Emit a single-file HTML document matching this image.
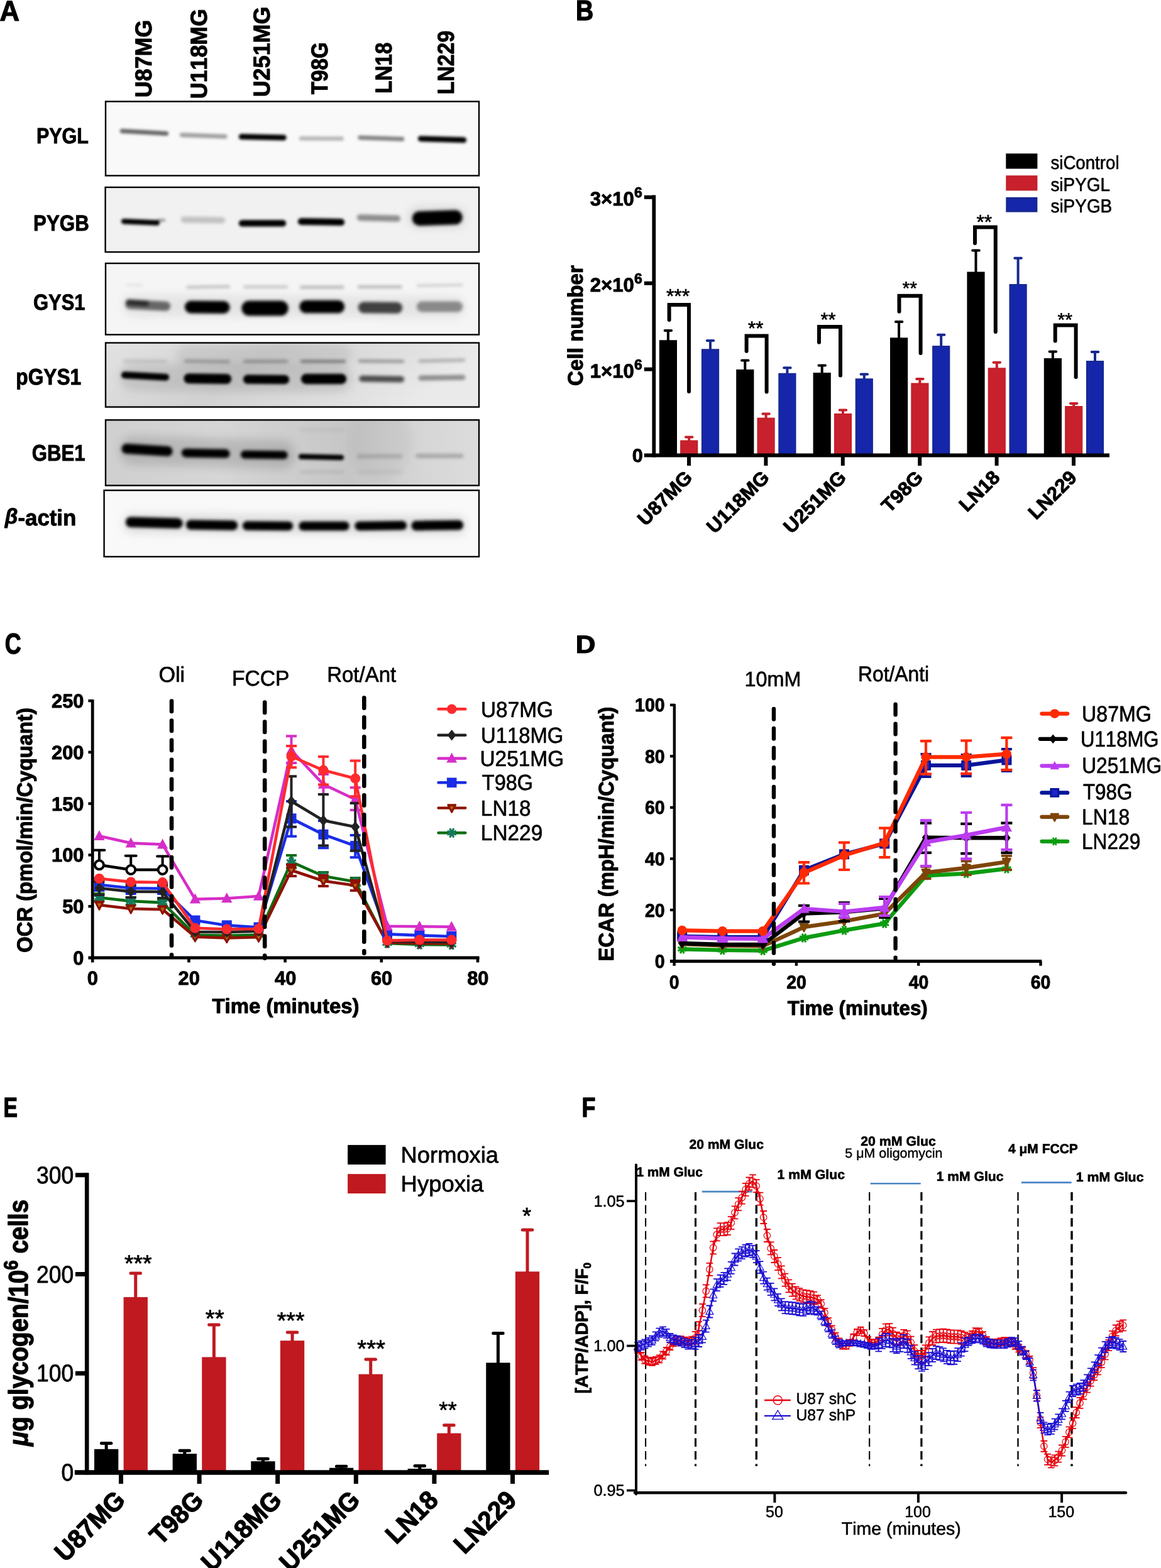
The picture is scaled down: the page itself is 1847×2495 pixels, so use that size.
<!DOCTYPE html>
<html lang="en">
<head>
<meta charset="utf-8">
<title>Figure</title>
<style>
html,body{margin:0;padding:0;background:#fff}
body{width:1847px;height:2495px;overflow:hidden}
svg{display:block;font-family:"Liberation Sans",sans-serif;font-kerning:none;text-rendering:geometricPrecision}
</style>
</head>
<body>
<svg width="1847" height="2495" viewBox="0 0 1847 2495">
<rect width="1847" height="2495" fill="#fff"/>
<g id="panel-A">
<defs><filter id="b1" x="-20%" y="-100%" width="140%" height="300%"><feGaussianBlur stdDeviation="1.9"/></filter><filter id="b2" x="-20%" y="-100%" width="140%" height="300%"><feGaussianBlur stdDeviation="2.6"/></filter><filter id="b3" x="-20%" y="-100%" width="140%" height="300%"><feGaussianBlur stdDeviation="7"/></filter><filter id="b4" x="-30%" y="-30%" width="160%" height="160%"><feGaussianBlur stdDeviation="18"/></filter><linearGradient id="bg4" x1="0" y1="0" x2="1" y2="0.25"><stop offset="0" stop-color="#e2e2e2"/><stop offset="0.45" stop-color="#d2d2d2"/><stop offset="0.8" stop-color="#e0e0e0"/><stop offset="1" stop-color="#eaeaea"/></linearGradient><linearGradient id="bg5" x1="0" y1="0" x2="1" y2="0"><stop offset="0" stop-color="#cfcfcf"/><stop offset="0.3" stop-color="#d6d6d6"/><stop offset="0.65" stop-color="#c6c6c6"/><stop offset="0.85" stop-color="#d6d6d6"/><stop offset="1" stop-color="#dcdcdc"/></linearGradient>
<clipPath id="cb0"><rect x="168" y="161.5" width="594" height="118"/></clipPath>
<clipPath id="cb1"><rect x="167.6" y="298" width="594.4" height="103"/></clipPath>
<clipPath id="cb2"><rect x="168" y="419" width="594" height="113.5"/></clipPath>
<clipPath id="cb3"><rect x="168" y="545.5" width="594" height="102.1"/></clipPath>
<clipPath id="cb4"><rect x="168" y="668.3" width="594" height="104.2"/></clipPath>
<clipPath id="cb5"><rect x="165.6" y="780.2" width="596.4" height="105.6"/></clipPath>
</defs>
<rect x="168" y="161.5" width="594" height="118" fill="#f9f9f9"/>
<g clip-path="url(#cb0)">
<g filter="url(#b1)">
<rect x="190.8" y="207" width="77.4" height="7" rx="3.5" fill="#000" opacity="0.6" transform="rotate(3.11 229.5 210.5)"/>
<rect x="285.8" y="212.5" width="75.9" height="7" rx="3.5" fill="#000" opacity="0.36" transform="rotate(2.26 323.75 216)"/>
<rect x="379.8" y="213.75" width="75.9" height="9" rx="4.5" fill="#000" transform="rotate(1.13 417.75 218.25)"/>
<rect x="475.8" y="216.95" width="71.4" height="7" rx="3.5" fill="#000" opacity="0.26" transform="rotate(0.24 511.5 220.45)"/>
<rect x="569.3" y="216.65" width="73.9" height="7" rx="3.5" fill="#000" opacity="0.48" transform="rotate(2.09 606.25 220.15)"/>
<rect x="664.8" y="217.25" width="77.4" height="9" rx="4.5" fill="#000" transform="rotate(1.85 703.5 221.75)"/>
</g>
</g>
<rect x="168" y="161.5" width="594" height="118" fill="none" stroke="#000" stroke-width="2.4"/>
<rect x="167.6" y="298" width="594.4" height="103" fill="#f1f1f1"/>
<g clip-path="url(#cb1)">
<g filter="url(#b3)">
<rect x="650" y="329" width="90" height="34" rx="17" fill="#000" opacity="0.1"/>
</g>
<g filter="url(#b2)">
<rect x="287.8" y="345" width="70.4" height="10" rx="5" fill="#000" opacity="0.2" transform="rotate(0.81 323 350)"/>
<rect x="567.8" y="342" width="69.4" height="10" rx="5" fill="#000" opacity="0.42" transform="rotate(1.65 602.5 347)"/>
<rect x="655.8" y="335.25" width="79.9" height="23" rx="11.5" fill="#000" transform="rotate(-1.79 695.75 346.75)"/>
</g>
<g filter="url(#b1)">
<rect x="192.8" y="349.15" width="61.4" height="8.5" rx="4.25" fill="#000" transform="rotate(2.61 223.5 353.4)"/>
<rect x="248.8" y="348" width="14.4" height="5" rx="2.5" fill="#000" opacity="0.35" transform="rotate(-3.97 256 350.5)"/>
<rect x="379.8" y="349.95" width="75.4" height="10.5" rx="5.25" fill="#000"/>
<rect x="473.8" y="347.5" width="74.4" height="11" rx="5.5" fill="#000" transform="rotate(1.08 511 353)"/>
</g>
</g>
<rect x="167.6" y="298" width="594.4" height="103" fill="none" stroke="#000" stroke-width="2.4"/>
<rect x="168" y="419" width="594" height="113.5" fill="#f5f5f5"/>
<g clip-path="url(#cb2)">
<g filter="url(#b3)">
<rect x="195" y="470.5" width="545" height="34" rx="17" fill="#000" opacity="0.07" transform="rotate(0.32 467.5 487.5)"/>
</g>
<g filter="url(#b2)">
<rect x="200.8" y="451.5" width="27.4" height="4" rx="2" fill="#000" opacity="0.07"/>
<rect x="296.3" y="454.25" width="69.9" height="4.5" rx="2.25" fill="#000" opacity="0.22" transform="rotate(-0.82 331.25 456.5)"/>
<rect x="386.8" y="454.25" width="71.4" height="4.5" rx="2.25" fill="#000" opacity="0.2"/>
<rect x="476.8" y="454.75" width="70.9" height="4.5" rx="2.25" fill="#000" opacity="0.27"/>
<rect x="568.8" y="454.25" width="70.9" height="4.5" rx="2.25" fill="#000" opacity="0.27"/>
<rect x="662.8" y="452" width="73.9" height="4" rx="2" fill="#000" opacity="0.16" transform="rotate(-0.78 699.75 454)"/>
<rect x="199.3" y="478.25" width="71.9" height="15" rx="7.5" fill="#000" opacity="0.55" transform="rotate(2.79 235.25 485.75)"/>
<rect x="199.8" y="477.25" width="37.4" height="9" rx="4.5" fill="#000" opacity="0.6" transform="rotate(3.82 218.5 481.75)"/>
<rect x="293.8" y="478.75" width="71.9" height="20" rx="10" fill="#000" transform="rotate(0.40 329.75 488.75)"/>
<rect x="384.3" y="478.6" width="74.4" height="24" rx="12" fill="#000"/>
<rect x="476.3" y="477.75" width="71.9" height="20.5" rx="10.25" fill="#000"/>
<rect x="569.8" y="480.5" width="70.4" height="18" rx="9" fill="#000" opacity="0.72" transform="rotate(0.81 605 489.5)"/>
<rect x="662.8" y="479.5" width="73.4" height="17" rx="8.5" fill="#000" opacity="0.4"/>
</g>
</g>
<rect x="168" y="419" width="594" height="113.5" fill="none" stroke="#000" stroke-width="2.4"/>
<rect x="168" y="545.5" width="594" height="102.1" fill="url(#bg4)"/>
<g clip-path="url(#cb3)">
<g filter="url(#b3)">
<rect x="190" y="579.5" width="370" height="44" rx="22" fill="#000" opacity="0.1" transform="rotate(0.46 375 601.5)"/>
<rect x="280" y="548" width="280" height="36" rx="18" fill="#000" opacity="0.07"/>
</g>
<g filter="url(#b2)">
<rect x="195.8" y="572.5" width="70.4" height="4.5" rx="2.25" fill="#000" opacity="0.12" transform="rotate(0.41 231 574.75)"/>
<rect x="292.8" y="572.75" width="73.4" height="4.5" rx="2.25" fill="#000" opacity="0.27" transform="rotate(0.78 329.5 575)"/>
<rect x="386.8" y="572.75" width="71.4" height="4.5" rx="2.25" fill="#000" opacity="0.3"/>
<rect x="477.8" y="572.75" width="72.4" height="4.5" rx="2.25" fill="#000" opacity="0.42"/>
<rect x="569.8" y="572.5" width="73.4" height="4.5" rx="2.25" fill="#000" opacity="0.36" transform="rotate(0.39 606.5 574.75)"/>
<rect x="665.8" y="571.5" width="74.4" height="4.5" rx="2.25" fill="#000" opacity="0.27" transform="rotate(-1.16 703 573.75)"/>
<rect x="571.3" y="598" width="71.9" height="10" rx="5" fill="#000" opacity="0.66" transform="rotate(0.80 607.25 603)"/>
<rect x="665.8" y="597" width="74.4" height="8" rx="4" fill="#000" opacity="0.4" transform="rotate(-0.77 703 601)"/>
</g>
<g filter="url(#b1)">
<rect x="192.8" y="593" width="76.4" height="11" rx="5.5" fill="#000" transform="rotate(3.00 231 598.5)"/>
<rect x="292.3" y="594.6" width="75.9" height="16" rx="8" fill="#000" transform="rotate(0.60 330.25 602.6)"/>
<rect x="386.8" y="596.5" width="73.4" height="14.5" rx="7.25" fill="#000" transform="rotate(0.39 423.5 603.75)"/>
<rect x="478.8" y="594.75" width="72.4" height="16.5" rx="8.25" fill="#000"/>
</g>
</g>
<rect x="168" y="545.5" width="594" height="102.1" fill="none" stroke="#000" stroke-width="2.4"/>
<rect x="168" y="668.3" width="594" height="104.2" fill="url(#bg5)"/>
<g clip-path="url(#cb4)">
<g filter="url(#b3)">
<rect x="190" y="697" width="280" height="46" rx="23" fill="#000" opacity="0.13" transform="rotate(1.64 330 720)"/>
<rect x="555" y="645" width="100" height="120" rx="60" fill="#000" opacity="0.03"/>
</g>
<g filter="url(#b2)">
<rect x="193.3" y="708.1" width="81.4" height="16" rx="8" fill="#000" transform="rotate(3.51 234 716.1)"/>
<rect x="288.8" y="714.25" width="76.9" height="14" rx="7" fill="#000" transform="rotate(1.12 327.25 721.25)"/>
<rect x="382.8" y="717.2" width="74.9" height="13" rx="6.5" fill="#000" transform="rotate(0.76 420.25 723.7)"/>
<rect x="567.8" y="722.5" width="72.4" height="7" rx="3.5" fill="#000" opacity="0.15"/>
<rect x="661.3" y="722.1" width="75.9" height="7" rx="3.5" fill="#000" opacity="0.22"/>
<rect x="476.8" y="748.5" width="70.4" height="5" rx="2.5" fill="#000" opacity="0.07"/>
<rect x="567.8" y="748.5" width="72.4" height="5" rx="2.5" fill="#000" opacity="0.05"/>
<rect x="476.8" y="681.5" width="70.4" height="5" rx="2.5" fill="#000" opacity="0.05"/>
</g>
<g filter="url(#b1)">
<rect x="474.8" y="723" width="72.4" height="8.5" rx="4.25" fill="#000" transform="rotate(1.19 511 727.25)"/>
</g>
</g>
<rect x="168" y="668.3" width="594" height="104.2" fill="none" stroke="#000" stroke-width="2.4"/>
<rect x="165.6" y="780.2" width="596.4" height="105.6" fill="#f9f9f9"/>
<g clip-path="url(#cb5)">
<g filter="url(#b3)">
<rect x="196" y="818.5" width="546" height="32" rx="16" fill="#000" opacity="0.1" transform="rotate(0.31 469 834.5)"/>
</g>
<g filter="url(#b2)">
<rect x="199.8" y="823.5" width="90.9" height="16.5" rx="8.25" fill="#000" transform="rotate(1.58 245.25 831.75)"/>
<rect x="295.8" y="827.75" width="82.4" height="15.5" rx="7.75" fill="#000" transform="rotate(0.70 337 835.5)"/>
<rect x="385.8" y="829.5" width="80.4" height="14.5" rx="7.25" fill="#000" transform="rotate(0.36 426 836.75)"/>
<rect x="475.3" y="829.75" width="80.4" height="14.5" rx="7.25" fill="#000"/>
<rect x="564.3" y="829.25" width="82.9" height="14.5" rx="7.25" fill="#000" transform="rotate(-0.69 605.75 836.5)"/>
<rect x="654.3" y="828.25" width="82.9" height="15.5" rx="7.75" fill="#000" transform="rotate(-0.69 695.75 836)"/>
</g>
</g>
<rect x="165.6" y="780.2" width="596.4" height="105.6" fill="none" stroke="#000" stroke-width="2.4"/>
<text transform="translate(-0.39 32.7) scale(0.9539 1)" font-size="45.79" font-weight="bold" stroke="#000" stroke-width="1.19" stroke-linejoin="round">A</text>
<text transform="translate(57.96 228) scale(0.8736 1)" font-size="34.88" font-weight="bold" stroke="#000" stroke-width="0.91" stroke-linejoin="round">PYGL</text>
<text transform="translate(53.11 367.3) scale(0.8900 1)" font-size="35.18" font-weight="bold" stroke="#000" stroke-width="0.91" stroke-linejoin="round">PYGB</text>
<text transform="translate(52.93 493.2) scale(0.8722 1)" font-size="35.47" font-weight="bold" stroke="#000" stroke-width="0.92" stroke-linejoin="round">GYS1</text>
<text transform="translate(25.31 612.3) scale(0.8788 1)" font-size="36.05" font-weight="bold" stroke="#000" stroke-width="0.94" stroke-linejoin="round">pGYS1</text>
<text transform="translate(50.72 733) scale(0.8633 1)" font-size="36.05" font-weight="bold" stroke="#000" stroke-width="0.94" stroke-linejoin="round">GBE1</text>
<text transform="translate(7.84 836) scale(0.9746 1)" font-size="35.76" font-weight="bold" stroke="#000" stroke-width="0.93" stroke-linejoin="round"><tspan font-style="italic" font-size="34" dy="-3.5">β</tspan><tspan dy="3.5">-actin</tspan></text>
<text transform="translate(241 155.15) rotate(-90) scale(0.9707 1)" font-size="36.92" font-weight="bold" stroke="#000" stroke-width="0.96" stroke-linejoin="round">U87MG</text>
<text transform="translate(329 157.15) rotate(-90) scale(0.9691 1)" font-size="36.92" font-weight="bold" stroke="#000" stroke-width="0.96" stroke-linejoin="round">U118MG</text>
<text transform="translate(429.3 154.16) rotate(-90) scale(0.9719 1)" font-size="36.92" font-weight="bold" stroke="#000" stroke-width="0.96" stroke-linejoin="round">U251MG</text>
<text transform="translate(520.7 150.37) rotate(-90) scale(0.9037 1)" font-size="36.92" font-weight="bold" stroke="#000" stroke-width="0.96" stroke-linejoin="round">T98G</text>
<text transform="translate(622.6 148.72) rotate(-90) scale(0.8999 1)" font-size="36.92" font-weight="bold" stroke="#000" stroke-width="0.96" stroke-linejoin="round">LN18</text>
<text transform="translate(722.3 150.26) rotate(-90) scale(0.9161 1)" font-size="36.92" font-weight="bold" stroke="#000" stroke-width="0.96" stroke-linejoin="round">LN229</text>
</g>
<g id="panel-B">
<text transform="translate(916.09 32.2) scale(0.8661 1)" font-size="45.06" font-weight="bold" stroke="#000" stroke-width="1.35" stroke-linejoin="round">B</text>
<path d="M1062.9 526V543.2M1057.65 526H1068.15" fill="none" stroke="#000" stroke-width="4" stroke-linecap="round"/>
<rect x="1048.8" y="541.2" width="28.2" height="183.3" fill="#000"/>
<path d="M1096.2 695.6V702.5M1090.95 695.6H1101.45" fill="none" stroke="#c4202a" stroke-width="4" stroke-linecap="round"/>
<rect x="1083.1" y="701.5" width="26.2" height="23" fill="#c8202c" stroke="#c4202a" stroke-width="2"/>
<path d="M1130 541.9V557.2M1124.75 541.9H1135.25" fill="none" stroke="#17288f" stroke-width="4" stroke-linecap="round"/>
<rect x="1116.9" y="556.2" width="26.2" height="168.3" fill="#1526ab" stroke="#17288f" stroke-width="2"/>
<path d="M1185.3 573.4V589.9M1180.05 573.4H1190.55" fill="none" stroke="#000" stroke-width="4" stroke-linecap="round"/>
<rect x="1171.2" y="587.9" width="28.2" height="136.6" fill="#000"/>
<path d="M1218.6 658.6V666.6M1213.35 658.6H1223.85" fill="none" stroke="#c4202a" stroke-width="4" stroke-linecap="round"/>
<rect x="1205.5" y="665.6" width="26.2" height="58.9" fill="#c8202c" stroke="#c4202a" stroke-width="2"/>
<path d="M1252.4 585.2V595.7M1247.15 585.2H1257.65" fill="none" stroke="#17288f" stroke-width="4" stroke-linecap="round"/>
<rect x="1239.3" y="594.7" width="26.2" height="129.8" fill="#1526ab" stroke="#17288f" stroke-width="2"/>
<path d="M1307.7 581.6V595M1302.45 581.6H1312.95" fill="none" stroke="#000" stroke-width="4" stroke-linecap="round"/>
<rect x="1293.6" y="593" width="28.2" height="131.5" fill="#000"/>
<path d="M1341 652.5V659.9M1335.75 652.5H1346.25" fill="none" stroke="#c4202a" stroke-width="4" stroke-linecap="round"/>
<rect x="1327.9" y="658.9" width="26.2" height="65.6" fill="#c8202c" stroke="#c4202a" stroke-width="2"/>
<path d="M1374.8 595.6V604.2M1369.55 595.6H1380.05" fill="none" stroke="#17288f" stroke-width="4" stroke-linecap="round"/>
<rect x="1361.7" y="603.2" width="26.2" height="121.3" fill="#1526ab" stroke="#17288f" stroke-width="2"/>
<path d="M1430.1 511.9V539.3M1424.85 511.9H1435.35" fill="none" stroke="#000" stroke-width="4" stroke-linecap="round"/>
<rect x="1416" y="537.3" width="28.2" height="187.2" fill="#000"/>
<path d="M1463.4 602.9V611.4M1458.15 602.9H1468.65" fill="none" stroke="#c4202a" stroke-width="4" stroke-linecap="round"/>
<rect x="1450.3" y="610.4" width="26.2" height="114.1" fill="#c8202c" stroke="#c4202a" stroke-width="2"/>
<path d="M1497.2 532.7V552.1M1491.95 532.7H1502.45" fill="none" stroke="#17288f" stroke-width="4" stroke-linecap="round"/>
<rect x="1484.1" y="551.1" width="26.2" height="173.4" fill="#1526ab" stroke="#17288f" stroke-width="2"/>
<path d="M1552.5 398.5V434.5M1547.25 398.5H1557.75" fill="none" stroke="#000" stroke-width="4" stroke-linecap="round"/>
<rect x="1538.4" y="432.5" width="28.2" height="292" fill="#000"/>
<path d="M1585.8 576.7V587.2M1580.55 576.7H1591.05" fill="none" stroke="#c4202a" stroke-width="4" stroke-linecap="round"/>
<rect x="1572.7" y="586.2" width="26.2" height="138.3" fill="#c8202c" stroke="#c4202a" stroke-width="2"/>
<path d="M1619.6 410.8V454M1614.35 410.8H1624.85" fill="none" stroke="#17288f" stroke-width="4" stroke-linecap="round"/>
<rect x="1606.5" y="453" width="26.2" height="271.5" fill="#1526ab" stroke="#17288f" stroke-width="2"/>
<path d="M1674.9 559.4V572M1669.65 559.4H1680.15" fill="none" stroke="#000" stroke-width="4" stroke-linecap="round"/>
<rect x="1660.8" y="570" width="28.2" height="154.5" fill="#000"/>
<path d="M1708.2 642V648M1702.95 642H1713.45" fill="none" stroke="#c4202a" stroke-width="4" stroke-linecap="round"/>
<rect x="1695.1" y="647" width="26.2" height="77.5" fill="#c8202c" stroke="#c4202a" stroke-width="2"/>
<path d="M1742 560V576M1736.75 560H1747.25" fill="none" stroke="#17288f" stroke-width="4" stroke-linecap="round"/>
<rect x="1728.9" y="575" width="26.2" height="149.5" fill="#1526ab" stroke="#17288f" stroke-width="2"/>
<line x1="1040.3" y1="310.6" x2="1040.3" y2="727.5" stroke="#000" stroke-width="5.8"/>
<line x1="1024.8" y1="724.5" x2="1765" y2="724.5" stroke="#000" stroke-width="6"/>
<line x1="1024.8" y1="587.6" x2="1041" y2="587.6" stroke="#000" stroke-width="6"/>
<line x1="1024.8" y1="450.7" x2="1041" y2="450.7" stroke="#000" stroke-width="6"/>
<line x1="1024.8" y1="313.8" x2="1041" y2="313.8" stroke="#000" stroke-width="6"/>
<line x1="1096" y1="726" x2="1096" y2="741" stroke="#000" stroke-width="6"/>
<line x1="1218.4" y1="726" x2="1218.4" y2="741" stroke="#000" stroke-width="6"/>
<line x1="1340.8" y1="726" x2="1340.8" y2="741" stroke="#000" stroke-width="6"/>
<line x1="1463.2" y1="726" x2="1463.2" y2="741" stroke="#000" stroke-width="6"/>
<line x1="1585.6" y1="726" x2="1585.6" y2="741" stroke="#000" stroke-width="6"/>
<line x1="1708" y1="726" x2="1708" y2="741" stroke="#000" stroke-width="6"/>
<text transform="translate(938.81 600.8) scale(1.0000 1)" font-size="31.11" font-weight="bold" stroke="#000" stroke-width="0.93" stroke-linejoin="round">1×10<tspan font-size="23" dy="-13">6</tspan></text>
<text transform="translate(938.81 463.9) scale(1.0000 1)" font-size="31.11" font-weight="bold" stroke="#000" stroke-width="0.93" stroke-linejoin="round">2×10<tspan font-size="23" dy="-13">6</tspan></text>
<text transform="translate(938.81 327) scale(1.0000 1)" font-size="31.11" font-weight="bold" stroke="#000" stroke-width="0.93" stroke-linejoin="round">3×10<tspan font-size="23" dy="-13">6</tspan></text>
<text transform="translate(1005.79 734.7) scale(1.0353 1)" font-size="29.65" font-weight="bold" stroke="#000" stroke-width="0.89" stroke-linejoin="round">0</text>
<text transform="translate(927 613.96) rotate(-90) scale(0.9851 1)" font-size="33.72" font-weight="bold" stroke="#000" stroke-width="1.01" stroke-linejoin="round">Cell number</text>
<path d="M1064.6 509V485H1096V623" fill="none" stroke="#000" stroke-width="6" stroke-linecap="round" stroke-linejoin="miter"/>
<path d="M1187.6 558.7V534.5H1219.6V623.4" fill="none" stroke="#000" stroke-width="6" stroke-linecap="round" stroke-linejoin="miter"/>
<path d="M1303 544.7V520H1337V597.5" fill="none" stroke="#000" stroke-width="6" stroke-linecap="round" stroke-linejoin="miter"/>
<path d="M1430.5 495.8V470.8H1464.6V562" fill="none" stroke="#000" stroke-width="6" stroke-linecap="round" stroke-linejoin="miter"/>
<path d="M1551 387V361.6H1583.8V528" fill="none" stroke="#000" stroke-width="6" stroke-linecap="round" stroke-linejoin="miter"/>
<path d="M1678.7 542.4V517.4H1711.6V600" fill="none" stroke="#000" stroke-width="6" stroke-linecap="round" stroke-linejoin="miter"/>
<text x="1059.88" y="482.38" font-size="31.96" stroke="#000" stroke-width="0.64" stroke-linejoin="round">***</text>
<text x="1190.09" y="533.06" font-size="31.34" stroke="#000" stroke-width="0.63" stroke-linejoin="round">**</text>
<text x="1305.5" y="518.79" font-size="30.81" stroke="#000" stroke-width="0.62" stroke-linejoin="round">**</text>
<text x="1435.51" y="469.24" font-size="30.14" stroke="#000" stroke-width="0.6" stroke-linejoin="round">**</text>
<text x="1553.49" y="363.97" font-size="31.74" stroke="#000" stroke-width="0.63" stroke-linejoin="round">**</text>
<text x="1682.52" y="518.88" font-size="30" stroke="#000" stroke-width="0.6" stroke-linejoin="round">**</text>
<text transform="translate(1103.4 761.6) rotate(-45) scale(1.0200 1)" font-size="30.8" text-anchor="end" font-weight="bold" stroke="#000" stroke-width="0.92" stroke-linejoin="round">U87MG</text>
<text transform="translate(1225.7 761.6) rotate(-45) scale(1.0200 1)" font-size="30.8" text-anchor="end" font-weight="bold" stroke="#000" stroke-width="0.92" stroke-linejoin="round">U118MG</text>
<text transform="translate(1348 761.6) rotate(-45) scale(1.0200 1)" font-size="30.8" text-anchor="end" font-weight="bold" stroke="#000" stroke-width="0.92" stroke-linejoin="round">U251MG</text>
<text transform="translate(1470.3 761.6) rotate(-45) scale(1.0200 1)" font-size="30.8" text-anchor="end" font-weight="bold" stroke="#000" stroke-width="0.92" stroke-linejoin="round">T98G</text>
<text transform="translate(1592.6 761.6) rotate(-45) scale(1.0200 1)" font-size="30.8" text-anchor="end" font-weight="bold" stroke="#000" stroke-width="0.92" stroke-linejoin="round">LN18</text>
<text transform="translate(1714.9 761.6) rotate(-45) scale(1.0200 1)" font-size="30.8" text-anchor="end" font-weight="bold" stroke="#000" stroke-width="0.92" stroke-linejoin="round">LN229</text>
<rect x="1601.8" y="245.8" width="47.1" height="21.2" fill="#000" stroke="#000" stroke-width="3"/>
<rect x="1601.8" y="280.7" width="47.1" height="21.2" fill="#c8202c" stroke="#c4202a" stroke-width="3"/>
<rect x="1601.8" y="315.3" width="47.1" height="20.8" fill="#1526ab" stroke="#17288f" stroke-width="3"/>
<text transform="translate(1671.43 269) scale(0.9236 1)" font-size="29.94" stroke="#000" stroke-width="0.6" stroke-linejoin="round">siControl</text>
<text transform="translate(1671.42 303.6) scale(0.9310 1)" font-size="29.94" stroke="#000" stroke-width="0.6" stroke-linejoin="round">siPYGL</text>
<text transform="translate(1671.42 337.5) scale(0.9335 1)" font-size="29.94" stroke="#000" stroke-width="0.6" stroke-linejoin="round">siPYGB</text>
</g>
<g id="panel-C">
<text transform="translate(7.73 1039.6) scale(0.7825 1)" font-size="45.93" font-weight="bold" stroke="#000" stroke-width="1.38" stroke-linejoin="round">C</text>
<path d="M157.9 1422V1434M149.4 1422H166.4M149.4 1434H166.4" fill="none" stroke="#0a6e12" stroke-width="4" stroke-linecap="butt"/>
<path d="M208.2 1428V1440M199.7 1428H216.7M199.7 1440H216.7" fill="none" stroke="#0a6e12" stroke-width="4" stroke-linecap="butt"/>
<path d="M258.6 1431V1442M250.1 1431H267.1M250.1 1442H267.1" fill="none" stroke="#0a6e12" stroke-width="4" stroke-linecap="butt"/>
<path d="M463.5 1361V1381M455 1361H472M455 1381H472" fill="none" stroke="#0a6e12" stroke-width="4" stroke-linecap="butt"/>
<path d="M514.4 1388V1400M505.9 1388H522.9M505.9 1400H522.9" fill="none" stroke="#0a6e12" stroke-width="4" stroke-linecap="butt"/>
<path d="M565.2 1397V1409M556.7 1397H573.7M556.7 1409H573.7" fill="none" stroke="#0a6e12" stroke-width="4" stroke-linecap="butt"/>
<polyline points="157.9,1428.3 208.2,1433.9 258.6,1436.3 310.4,1487.7 360.8,1488.9 411.5,1487.6 463.5,1371.4 514.4,1394 565.2,1403 616,1501 667.4,1503 718.3,1503.4" fill="none" stroke="#0a6e12" stroke-width="4.6" stroke-linejoin="round" stroke-linecap="round"/>
<circle cx="157.9" cy="1428.3" r="4.96" fill="#157a5c"/><path d="M150.51 1425.24L165.29 1431.36M154.84 1420.91L160.96 1435.69M160.96 1420.91L154.84 1435.69M165.29 1425.24L150.51 1431.36" stroke="#157a5c" stroke-width="3.36" fill="none"/>
<circle cx="208.2" cy="1433.9" r="4.96" fill="#157a5c"/><path d="M200.81 1430.84L215.59 1436.96M205.14 1426.51L211.26 1441.29M211.26 1426.51L205.14 1441.29M215.59 1430.84L200.81 1436.96" stroke="#157a5c" stroke-width="3.36" fill="none"/>
<circle cx="258.6" cy="1436.3" r="4.96" fill="#157a5c"/><path d="M251.21 1433.24L265.99 1439.36M255.54 1428.91L261.66 1443.69M261.66 1428.91L255.54 1443.69M265.99 1433.24L251.21 1439.36" stroke="#157a5c" stroke-width="3.36" fill="none"/>
<circle cx="310.4" cy="1487.7" r="4.96" fill="#157a5c"/><path d="M303.01 1484.64L317.79 1490.76M307.34 1480.31L313.46 1495.09M313.46 1480.31L307.34 1495.09M317.79 1484.64L303.01 1490.76" stroke="#157a5c" stroke-width="3.36" fill="none"/>
<circle cx="360.8" cy="1488.9" r="4.96" fill="#157a5c"/><path d="M353.41 1485.84L368.19 1491.96M357.74 1481.51L363.86 1496.29M363.86 1481.51L357.74 1496.29M368.19 1485.84L353.41 1491.96" stroke="#157a5c" stroke-width="3.36" fill="none"/>
<circle cx="411.5" cy="1487.6" r="4.96" fill="#157a5c"/><path d="M404.11 1484.54L418.89 1490.66M408.44 1480.21L414.56 1494.99M414.56 1480.21L408.44 1494.99M418.89 1484.54L404.11 1490.66" stroke="#157a5c" stroke-width="3.36" fill="none"/>
<circle cx="463.5" cy="1371.4" r="4.96" fill="#157a5c"/><path d="M456.11 1368.34L470.89 1374.46M460.44 1364.01L466.56 1378.79M466.56 1364.01L460.44 1378.79M470.89 1368.34L456.11 1374.46" stroke="#157a5c" stroke-width="3.36" fill="none"/>
<circle cx="514.4" cy="1394" r="4.96" fill="#157a5c"/><path d="M507.01 1390.94L521.79 1397.06M511.34 1386.61L517.46 1401.39M517.46 1386.61L511.34 1401.39M521.79 1390.94L507.01 1397.06" stroke="#157a5c" stroke-width="3.36" fill="none"/>
<circle cx="565.2" cy="1403" r="4.96" fill="#157a5c"/><path d="M557.81 1399.94L572.59 1406.06M562.14 1395.61L568.26 1410.39M568.26 1395.61L562.14 1410.39M572.59 1399.94L557.81 1406.06" stroke="#157a5c" stroke-width="3.36" fill="none"/>
<circle cx="616" cy="1501" r="4.96" fill="#157a5c"/><path d="M608.61 1497.94L623.39 1504.06M612.94 1493.61L619.06 1508.39M619.06 1493.61L612.94 1508.39M623.39 1497.94L608.61 1504.06" stroke="#157a5c" stroke-width="3.36" fill="none"/>
<circle cx="667.4" cy="1503" r="4.96" fill="#157a5c"/><path d="M660.01 1499.94L674.79 1506.06M664.34 1495.61L670.46 1510.39M670.46 1495.61L664.34 1510.39M674.79 1499.94L660.01 1506.06" stroke="#157a5c" stroke-width="3.36" fill="none"/>
<circle cx="718.3" cy="1503.4" r="4.96" fill="#157a5c"/><path d="M710.91 1500.34L725.69 1506.46M715.24 1496.01L721.36 1510.79M721.36 1496.01L715.24 1510.79M725.69 1500.34L710.91 1506.46" stroke="#157a5c" stroke-width="3.36" fill="none"/>
<path d="M463.5 1376V1394M455 1376H472M455 1394H472" fill="none" stroke="#8f1206" stroke-width="4" stroke-linecap="butt"/>
<path d="M514.4 1393V1410M505.9 1393H522.9M505.9 1410H522.9" fill="none" stroke="#8f1206" stroke-width="4" stroke-linecap="butt"/>
<path d="M565.2 1401V1417M556.7 1401H573.7M556.7 1417H573.7" fill="none" stroke="#8f1206" stroke-width="4" stroke-linecap="butt"/>
<polyline points="157.9,1440 208.2,1446 258.6,1447 310.4,1490.8 360.8,1492.5 411.5,1491.3 463.5,1384.7 514.4,1401.7 565.2,1409 616,1499.8 667.4,1501 718.3,1501.5" fill="none" stroke="#8f1206" stroke-width="4.6" stroke-linejoin="round" stroke-linecap="round"/>
<path d="M157.9 1447.12L164.28 1434.75L151.53 1434.75Z" fill="#8f1206" stroke="#8f1206" stroke-width="3" stroke-linejoin="round"/><path d="M157.9 1443.38L161.05 1437.38L154.75 1437.38Z" fill="#b0700a"/>
<path d="M208.2 1453.12L214.57 1440.75L201.82 1440.75Z" fill="#8f1206" stroke="#8f1206" stroke-width="3" stroke-linejoin="round"/><path d="M208.2 1449.38L211.35 1443.38L205.05 1443.38Z" fill="#b0700a"/>
<path d="M258.6 1454.12L264.98 1441.75L252.23 1441.75Z" fill="#8f1206" stroke="#8f1206" stroke-width="3" stroke-linejoin="round"/><path d="M258.6 1450.38L261.75 1444.38L255.45 1444.38Z" fill="#b0700a"/>
<path d="M310.4 1497.92L316.77 1485.55L304.02 1485.55Z" fill="#8f1206" stroke="#8f1206" stroke-width="3" stroke-linejoin="round"/><path d="M310.4 1494.17L313.55 1488.17L307.25 1488.17Z" fill="#b0700a"/>
<path d="M360.8 1499.62L367.18 1487.25L354.43 1487.25Z" fill="#8f1206" stroke="#8f1206" stroke-width="3" stroke-linejoin="round"/><path d="M360.8 1495.88L363.95 1489.88L357.65 1489.88Z" fill="#b0700a"/>
<path d="M411.5 1498.42L417.88 1486.05L405.12 1486.05Z" fill="#8f1206" stroke="#8f1206" stroke-width="3" stroke-linejoin="round"/><path d="M411.5 1494.67L414.65 1488.67L408.35 1488.67Z" fill="#b0700a"/>
<path d="M463.5 1391.83L469.88 1379.45L457.12 1379.45Z" fill="#8f1206" stroke="#8f1206" stroke-width="3" stroke-linejoin="round"/><path d="M463.5 1388.08L466.65 1382.08L460.35 1382.08Z" fill="#b0700a"/>
<path d="M514.4 1408.83L520.77 1396.45L508.02 1396.45Z" fill="#8f1206" stroke="#8f1206" stroke-width="3" stroke-linejoin="round"/><path d="M514.4 1405.08L517.55 1399.08L511.25 1399.08Z" fill="#b0700a"/>
<path d="M565.2 1416.12L571.58 1403.75L558.83 1403.75Z" fill="#8f1206" stroke="#8f1206" stroke-width="3" stroke-linejoin="round"/><path d="M565.2 1412.38L568.35 1406.38L562.05 1406.38Z" fill="#b0700a"/>
<path d="M616 1506.92L622.38 1494.55L609.62 1494.55Z" fill="#8f1206" stroke="#8f1206" stroke-width="3" stroke-linejoin="round"/><path d="M616 1503.17L619.15 1497.17L612.85 1497.17Z" fill="#b0700a"/>
<path d="M667.4 1508.12L673.77 1495.75L661.02 1495.75Z" fill="#8f1206" stroke="#8f1206" stroke-width="3" stroke-linejoin="round"/><path d="M667.4 1504.38L670.55 1498.38L664.25 1498.38Z" fill="#b0700a"/>
<path d="M718.3 1508.62L724.67 1496.25L711.92 1496.25Z" fill="#8f1206" stroke="#8f1206" stroke-width="3" stroke-linejoin="round"/><path d="M718.3 1504.88L721.45 1498.88L715.15 1498.88Z" fill="#b0700a"/>
<path d="M157.9 1398V1417M149.4 1398H166.4M149.4 1417H166.4" fill="none" stroke="#1a2de6" stroke-width="4" stroke-linecap="butt"/>
<path d="M208.2 1405V1422M199.7 1405H216.7M199.7 1422H216.7" fill="none" stroke="#1a2de6" stroke-width="4" stroke-linecap="butt"/>
<path d="M258.6 1405V1422M250.1 1405H267.1M250.1 1422H267.1" fill="none" stroke="#1a2de6" stroke-width="4" stroke-linecap="butt"/>
<path d="M463.5 1275V1330.8M455 1275H472M455 1330.8H472" fill="none" stroke="#1a2de6" stroke-width="4" stroke-linecap="butt"/>
<path d="M514.4 1306V1349.2M505.9 1306H522.9M505.9 1349.2H522.9" fill="none" stroke="#1a2de6" stroke-width="4" stroke-linecap="butt"/>
<path d="M565.2 1329V1364.2M556.7 1329H573.7M556.7 1364.2H573.7" fill="none" stroke="#1a2de6" stroke-width="4" stroke-linecap="butt"/>
<polyline points="157.9,1407.7 208.2,1413.3 258.6,1413.8 310.4,1464.6 360.8,1472.4 411.5,1475.5 463.5,1302.4 514.4,1327.8 565.2,1346 616,1486.4 667.4,1488.4 718.3,1490" fill="none" stroke="#1a2de6" stroke-width="4.6" stroke-linejoin="round" stroke-linecap="round"/>
<rect x="149.9" y="1399.7" width="16" height="16" fill="#1a2de6"/>
<rect x="200.2" y="1405.3" width="16" height="16" fill="#1a2de6"/>
<rect x="250.6" y="1405.8" width="16" height="16" fill="#1a2de6"/>
<rect x="302.4" y="1456.6" width="16" height="16" fill="#1a2de6"/>
<rect x="352.8" y="1464.4" width="16" height="16" fill="#1a2de6"/>
<rect x="403.5" y="1467.5" width="16" height="16" fill="#1a2de6"/>
<rect x="455.5" y="1294.4" width="16" height="16" fill="#1a2de6"/>
<rect x="506.4" y="1319.8" width="16" height="16" fill="#1a2de6"/>
<rect x="557.2" y="1338" width="16" height="16" fill="#1a2de6"/>
<rect x="608" y="1478.4" width="16" height="16" fill="#1a2de6"/>
<rect x="659.4" y="1480.4" width="16" height="16" fill="#1a2de6"/>
<rect x="710.3" y="1482" width="16" height="16" fill="#1a2de6"/>
<path d="M463.5 1171.2V1214M455 1171.2H472M455 1214H472" fill="none" stroke="#d62ec8" stroke-width="4" stroke-linecap="butt"/>
<path d="M514.4 1232V1264.1M505.9 1232H522.9M505.9 1264.1H522.9" fill="none" stroke="#d62ec8" stroke-width="4" stroke-linecap="butt"/>
<path d="M565.2 1253.2V1289M556.7 1253.2H573.7M556.7 1289H573.7" fill="none" stroke="#d62ec8" stroke-width="4" stroke-linecap="butt"/>
<polyline points="157.9,1330.3 208.2,1341.6 258.6,1343.6 310.4,1430.8 360.8,1429.5 411.5,1426 463.5,1194 514.4,1248 565.2,1272 616,1473.8 667.4,1474.3 718.3,1474.8" fill="none" stroke="#d62ec8" stroke-width="4.6" stroke-linejoin="round" stroke-linecap="round"/>
<path d="M157.9 1321.1L166.54 1337.1L149.26 1337.1Z" fill="#d62ec8"/>
<path d="M208.2 1332.4L216.84 1348.4L199.56 1348.4Z" fill="#d62ec8"/>
<path d="M258.6 1334.4L267.24 1350.4L249.96 1350.4Z" fill="#d62ec8"/>
<path d="M310.4 1421.6L319.04 1437.6L301.76 1437.6Z" fill="#d62ec8"/>
<path d="M360.8 1420.3L369.44 1436.3L352.16 1436.3Z" fill="#d62ec8"/>
<path d="M411.5 1416.8L420.14 1432.8L402.86 1432.8Z" fill="#d62ec8"/>
<path d="M463.5 1184.8L472.14 1200.8L454.86 1200.8Z" fill="#d62ec8"/>
<path d="M514.4 1238.8L523.04 1254.8L505.76 1254.8Z" fill="#d62ec8"/>
<path d="M565.2 1262.8L573.84 1278.8L556.56 1278.8Z" fill="#d62ec8"/>
<path d="M616 1464.6L624.64 1480.6L607.36 1480.6Z" fill="#d62ec8"/>
<path d="M667.4 1465.1L676.04 1481.1L658.76 1481.1Z" fill="#d62ec8"/>
<path d="M718.3 1465.6L726.94 1481.6L709.66 1481.6Z" fill="#d62ec8"/>
<path d="M157.9 1403V1424M149.4 1403H166.4M149.4 1424H166.4" fill="none" stroke="#222222" stroke-width="4" stroke-linecap="butt"/>
<path d="M208.2 1409V1428M199.7 1409H216.7M199.7 1428H216.7" fill="none" stroke="#222222" stroke-width="4" stroke-linecap="butt"/>
<path d="M258.6 1409V1429M250.1 1409H267.1M250.1 1429H267.1" fill="none" stroke="#222222" stroke-width="4" stroke-linecap="butt"/>
<path d="M463.5 1235.3V1315.7M455 1235.3H472M455 1315.7H472" fill="none" stroke="#222222" stroke-width="4" stroke-linecap="butt"/>
<path d="M514.4 1264V1345.5M505.9 1264H522.9M505.9 1345.5H522.9" fill="none" stroke="#222222" stroke-width="4" stroke-linecap="butt"/>
<path d="M565.2 1278V1353.8M556.7 1278H573.7M556.7 1353.8H573.7" fill="none" stroke="#222222" stroke-width="4" stroke-linecap="butt"/>
<polyline points="157.9,1413.3 208.2,1418.6 258.6,1419.1 310.4,1482.8 360.8,1483.3 411.5,1481.6 463.5,1275 514.4,1305.5 565.2,1315.7 616,1498 667.4,1498.5 718.3,1499" fill="none" stroke="#222222" stroke-width="4.6" stroke-linejoin="round" stroke-linecap="round"/>
<path d="M157.9 1404.34L165.1 1413.3L157.9 1422.26L150.7 1413.3Z" fill="#222222"/>
<path d="M208.2 1409.64L215.4 1418.6L208.2 1427.56L201 1418.6Z" fill="#222222"/>
<path d="M258.6 1410.14L265.8 1419.1L258.6 1428.06L251.4 1419.1Z" fill="#222222"/>
<path d="M310.4 1473.84L317.6 1482.8L310.4 1491.76L303.2 1482.8Z" fill="#222222"/>
<path d="M360.8 1474.34L368 1483.3L360.8 1492.26L353.6 1483.3Z" fill="#222222"/>
<path d="M411.5 1472.64L418.7 1481.6L411.5 1490.56L404.3 1481.6Z" fill="#222222"/>
<path d="M463.5 1266.04L470.7 1275L463.5 1283.96L456.3 1275Z" fill="#222222"/>
<path d="M514.4 1296.54L521.6 1305.5L514.4 1314.46L507.2 1305.5Z" fill="#222222"/>
<path d="M565.2 1306.74L572.4 1315.7L565.2 1324.66L558 1315.7Z" fill="#222222"/>
<path d="M616 1489.04L623.2 1498L616 1506.96L608.8 1498Z" fill="#222222"/>
<path d="M667.4 1489.54L674.6 1498.5L667.4 1507.46L660.2 1498.5Z" fill="#222222"/>
<path d="M718.3 1490.04L725.5 1499L718.3 1507.96L711.1 1499Z" fill="#222222"/>
<path d="M157.9 1352.8V1376.3M149.4 1352.8H166.4" fill="none" stroke="#000" stroke-width="4" stroke-linecap="round"/>
<path d="M208.2 1361.7V1384M199.7 1361.7H216.7" fill="none" stroke="#000" stroke-width="4" stroke-linecap="round"/>
<path d="M258.6 1362.5V1384M250.1 1362.5H267.1" fill="none" stroke="#000" stroke-width="4" stroke-linecap="round"/>
<polyline points="157.9,1376.3 208.2,1384 258.6,1384" fill="none" stroke="#000" stroke-width="4.6" stroke-linejoin="round" stroke-linecap="round"/>
<circle cx="157.9" cy="1376.3" r="7" fill="#fff" stroke="#000" stroke-width="4"/>
<circle cx="208.2" cy="1384" r="7" fill="#fff" stroke="#000" stroke-width="4"/>
<circle cx="258.6" cy="1384" r="7" fill="#fff" stroke="#000" stroke-width="4"/>
<path d="M463.5 1186.9V1221.3M455 1186.9H472M455 1221.3H472" fill="none" stroke="#ff2a2d" stroke-width="4" stroke-linecap="butt"/>
<path d="M514.4 1203.9V1248.6M505.9 1203.9H522.9M505.9 1248.6H522.9" fill="none" stroke="#ff2a2d" stroke-width="4" stroke-linecap="butt"/>
<path d="M565.2 1210.4V1267.3M556.7 1210.4H573.7M556.7 1267.3H573.7" fill="none" stroke="#ff2a2d" stroke-width="4" stroke-linecap="butt"/>
<polyline points="157.9,1398 208.2,1403.4 258.6,1404.1 310.4,1476.8 360.8,1478.5 411.5,1478 463.5,1203.5 514.4,1225.6 565.2,1238.7 616,1496.6 667.4,1495.6 718.3,1495.6" fill="none" stroke="#ff2a2d" stroke-width="4.6" stroke-linejoin="round" stroke-linecap="round"/>
<circle cx="157.9" cy="1398" r="8" fill="#ff2a2d"/>
<circle cx="208.2" cy="1403.4" r="8" fill="#ff2a2d"/>
<circle cx="258.6" cy="1404.1" r="8" fill="#ff2a2d"/>
<circle cx="310.4" cy="1476.8" r="8" fill="#ff2a2d"/>
<circle cx="360.8" cy="1478.5" r="8" fill="#ff2a2d"/>
<circle cx="411.5" cy="1478" r="8" fill="#ff2a2d"/>
<circle cx="463.5" cy="1203.5" r="8" fill="#ff2a2d"/>
<circle cx="514.4" cy="1225.6" r="8" fill="#ff2a2d"/>
<circle cx="565.2" cy="1238.7" r="8" fill="#ff2a2d"/>
<circle cx="616" cy="1496.6" r="8" fill="#ff2a2d"/>
<circle cx="667.4" cy="1495.6" r="8" fill="#ff2a2d"/>
<circle cx="718.3" cy="1495.6" r="8" fill="#ff2a2d"/>
<line x1="273" y1="1115.6" x2="273" y2="1522.7" stroke="#000" stroke-width="6.6" stroke-linecap="round" stroke-dasharray="16.4 14.65"/>
<line x1="421.2" y1="1117.6" x2="421.2" y2="1524.7" stroke="#000" stroke-width="6.6" stroke-linecap="round" stroke-dasharray="16.4 14.6"/>
<line x1="579.3" y1="1110.3" x2="579.3" y2="1516.7" stroke="#000" stroke-width="6.6" stroke-linecap="round" stroke-dasharray="16.4 14.6"/>
<line x1="147.2" y1="1113.2" x2="147.2" y2="1526.4" stroke="#000" stroke-width="4.8"/>
<line x1="140.4" y1="1524" x2="762.6" y2="1524" stroke="#000" stroke-width="5"/>
<line x1="140.4" y1="1442.22" x2="148" y2="1442.22" stroke="#000" stroke-width="4.4"/>
<line x1="140.4" y1="1360.44" x2="148" y2="1360.44" stroke="#000" stroke-width="4.4"/>
<line x1="140.4" y1="1278.66" x2="148" y2="1278.66" stroke="#000" stroke-width="4.4"/>
<line x1="140.4" y1="1196.88" x2="148" y2="1196.88" stroke="#000" stroke-width="4.4"/>
<line x1="140.4" y1="1115.1" x2="148" y2="1115.1" stroke="#000" stroke-width="4.4"/>
<line x1="147.2" y1="1524" x2="147.2" y2="1531.4" stroke="#000" stroke-width="4.6"/>
<line x1="300.4" y1="1524" x2="300.4" y2="1531.4" stroke="#000" stroke-width="4.6"/>
<line x1="453.6" y1="1524" x2="453.6" y2="1531.4" stroke="#000" stroke-width="4.6"/>
<line x1="606.8" y1="1524" x2="606.8" y2="1531.4" stroke="#000" stroke-width="4.6"/>
<line x1="760" y1="1524" x2="760" y2="1531.4" stroke="#000" stroke-width="4.6"/>
<text transform="translate(116.33 1534.9) scale(1.0000 1)" font-size="30.81" font-weight="bold" stroke="#000" stroke-width="0.92" stroke-linejoin="round">0</text>
<text transform="translate(99.19 1453.12) scale(1.0000 1)" font-size="30.81" font-weight="bold" stroke="#000" stroke-width="0.92" stroke-linejoin="round">50</text>
<text transform="translate(82.05 1371.34) scale(1.0000 1)" font-size="30.81" font-weight="bold" stroke="#000" stroke-width="0.92" stroke-linejoin="round">100</text>
<text transform="translate(82.05 1289.56) scale(1.0000 1)" font-size="30.81" font-weight="bold" stroke="#000" stroke-width="0.92" stroke-linejoin="round">150</text>
<text transform="translate(82.05 1207.78) scale(1.0000 1)" font-size="30.81" font-weight="bold" stroke="#000" stroke-width="0.92" stroke-linejoin="round">200</text>
<text transform="translate(82.05 1126) scale(1.0000 1)" font-size="30.81" font-weight="bold" stroke="#000" stroke-width="0.92" stroke-linejoin="round">250</text>
<text transform="translate(138.85 1566.9) scale(1.0000 1)" font-size="30.81" font-weight="bold" stroke="#000" stroke-width="0.92" stroke-linejoin="round">0</text>
<text transform="translate(283.56 1566.9) scale(1.0000 1)" font-size="30.81" font-weight="bold" stroke="#000" stroke-width="0.92" stroke-linejoin="round">20</text>
<text transform="translate(437.06 1566.9) scale(1.0000 1)" font-size="30.81" font-weight="bold" stroke="#000" stroke-width="0.92" stroke-linejoin="round">40</text>
<text transform="translate(589.93 1566.9) scale(1.0000 1)" font-size="30.81" font-weight="bold" stroke="#000" stroke-width="0.92" stroke-linejoin="round">60</text>
<text transform="translate(743.21 1566.9) scale(1.0000 1)" font-size="30.81" font-weight="bold" stroke="#000" stroke-width="0.92" stroke-linejoin="round">80</text>
<text transform="translate(337.43 1612.3) scale(1.0025 1)" font-size="32.85" font-weight="bold" stroke="#000" stroke-width="0.99" stroke-linejoin="round">Time (minutes)</text>
<text transform="translate(51.4 1515.85) rotate(-90) scale(0.9642 1)" font-size="34.01" font-weight="bold" stroke="#000" stroke-width="1.02" stroke-linejoin="round">OCR (pmol/min/Cyquant)</text>
<text transform="translate(252.38 1085.2) scale(0.9951 1)" font-size="34.3" stroke="#000" stroke-width="0.69" stroke-linejoin="round">Oli</text>
<text transform="translate(368.94 1090.5) scale(0.9802 1)" font-size="34.3" stroke="#000" stroke-width="0.69" stroke-linejoin="round">FCCP</text>
<text transform="translate(520.19 1085.2) scale(0.9620 1)" font-size="34.3" stroke="#000" stroke-width="0.69" stroke-linejoin="round">Rot/Ant</text>
<line x1="697.5" y1="1128.3" x2="740.3" y2="1128.3" stroke="#ff2a2d" stroke-width="4.4" stroke-linecap="round"/>
<circle cx="718.7" cy="1128.3" r="7.8" fill="#ff2a2d"/>
<text transform="translate(765.03 1140.5) scale(0.9566 1)" font-size="34.88" stroke="#000" stroke-width="0.7" stroke-linejoin="round">U87MG</text>
<line x1="697.5" y1="1169.8" x2="740.3" y2="1169.8" stroke="#222222" stroke-width="4.4" stroke-linecap="round"/>
<path d="M718.7 1161.06L725.72 1169.8L718.7 1178.54L711.68 1169.8Z" fill="#222222"/>
<text transform="translate(765.07 1182.2) scale(0.9405 1)" font-size="34.88" stroke="#000" stroke-width="0.7" stroke-linejoin="round">U118MG</text>
<line x1="697.5" y1="1206.8" x2="740.3" y2="1206.8" stroke="#d62ec8" stroke-width="4.4" stroke-linecap="round"/>
<path d="M718.7 1197.83L727.12 1213.43L710.28 1213.43Z" fill="#d62ec8"/>
<text transform="translate(763.42 1219) scale(0.9584 1)" font-size="34.88" stroke="#000" stroke-width="0.7" stroke-linejoin="round">U251MG</text>
<line x1="697.5" y1="1245.3" x2="740.3" y2="1245.3" stroke="#1a2de6" stroke-width="4.4" stroke-linecap="round"/>
<rect x="710.9" y="1237.5" width="15.6" height="15.6" fill="#1a2de6"/>
<text transform="translate(766.87 1256.6) scale(0.9302 1)" font-size="34.88" stroke="#000" stroke-width="0.7" stroke-linejoin="round">T98G</text>
<line x1="697.5" y1="1285.6" x2="740.3" y2="1285.6" stroke="#8f1206" stroke-width="4.4" stroke-linecap="round"/>
<path d="M718.7 1292.25L724.65 1280.7L712.75 1280.7Z" fill="#8f1206" stroke="#8f1206" stroke-width="3" stroke-linejoin="round"/><path d="M718.7 1288.75L721.64 1283.15L715.76 1283.15Z" fill="#b0700a"/>
<text transform="translate(764.87 1297.8) scale(0.9542 1)" font-size="34.88" stroke="#000" stroke-width="0.7" stroke-linejoin="round">LN18</text>
<line x1="697.5" y1="1325.3" x2="740.3" y2="1325.3" stroke="#0a6e12" stroke-width="4.4" stroke-linecap="round"/>
<circle cx="718.7" cy="1325.3" r="4.84" fill="#157a5c"/><path d="M711.49 1322.32L725.91 1328.28M715.72 1318.09L721.68 1332.51M721.68 1318.09L715.72 1332.51M725.91 1322.32L711.49 1328.28" stroke="#157a5c" stroke-width="3.28" fill="none"/>
<text transform="translate(764.86 1337.1) scale(0.9574 1)" font-size="34.88" stroke="#000" stroke-width="0.7" stroke-linejoin="round">LN229</text>
</g>
<g id="panel-D">
<text transform="translate(915.67 1038.7) scale(1.1013 1)" font-size="39.83" font-weight="bold" stroke="#000" stroke-width="1.19" stroke-linejoin="round">D</text>
<polyline points="1085.2,1510.2 1149.4,1511.9 1213.6,1512.6 1279,1492.5 1343,1480.4 1407.2,1469.5 1473,1393.2 1537.2,1390 1601.4,1382.3" fill="none" stroke="#0c9c10" stroke-width="6.4" stroke-linejoin="round" stroke-linecap="round"/>
<circle cx="1085.2" cy="1510.2" r="4.65" fill="#0c9c10"/><path d="M1078.27 1507.33L1092.13 1513.07M1082.33 1503.27L1088.07 1517.13M1088.07 1503.27L1082.33 1517.13M1092.13 1507.33L1078.27 1513.07" stroke="#0c9c10" stroke-width="3.15" fill="none"/>
<circle cx="1149.4" cy="1511.9" r="4.65" fill="#0c9c10"/><path d="M1142.47 1509.03L1156.33 1514.77M1146.53 1504.97L1152.27 1518.83M1152.27 1504.97L1146.53 1518.83M1156.33 1509.03L1142.47 1514.77" stroke="#0c9c10" stroke-width="3.15" fill="none"/>
<circle cx="1213.6" cy="1512.6" r="4.65" fill="#0c9c10"/><path d="M1206.67 1509.73L1220.53 1515.47M1210.73 1505.67L1216.47 1519.53M1216.47 1505.67L1210.73 1519.53M1220.53 1509.73L1206.67 1515.47" stroke="#0c9c10" stroke-width="3.15" fill="none"/>
<circle cx="1279" cy="1492.5" r="4.65" fill="#0c9c10"/><path d="M1272.07 1489.63L1285.93 1495.37M1276.13 1485.57L1281.87 1499.43M1281.87 1485.57L1276.13 1499.43M1285.93 1489.63L1272.07 1495.37" stroke="#0c9c10" stroke-width="3.15" fill="none"/>
<circle cx="1343" cy="1480.4" r="4.65" fill="#0c9c10"/><path d="M1336.07 1477.53L1349.93 1483.27M1340.13 1473.47L1345.87 1487.33M1345.87 1473.47L1340.13 1487.33M1349.93 1477.53L1336.07 1483.27" stroke="#0c9c10" stroke-width="3.15" fill="none"/>
<circle cx="1407.2" cy="1469.5" r="4.65" fill="#0c9c10"/><path d="M1400.27 1466.63L1414.13 1472.37M1404.33 1462.57L1410.07 1476.43M1410.07 1462.57L1404.33 1476.43M1414.13 1466.63L1400.27 1472.37" stroke="#0c9c10" stroke-width="3.15" fill="none"/>
<circle cx="1473" cy="1393.2" r="4.65" fill="#0c9c10"/><path d="M1466.07 1390.33L1479.93 1396.07M1470.13 1386.27L1475.87 1400.13M1475.87 1386.27L1470.13 1400.13M1479.93 1390.33L1466.07 1396.07" stroke="#0c9c10" stroke-width="3.15" fill="none"/>
<circle cx="1537.2" cy="1390" r="4.65" fill="#0c9c10"/><path d="M1530.27 1387.13L1544.13 1392.87M1534.33 1383.07L1540.07 1396.93M1540.07 1383.07L1534.33 1396.93M1544.13 1387.13L1530.27 1392.87" stroke="#0c9c10" stroke-width="3.15" fill="none"/>
<circle cx="1601.4" cy="1382.3" r="4.65" fill="#0c9c10"/><path d="M1594.47 1379.43L1608.33 1385.17M1598.53 1375.37L1604.27 1389.23M1604.27 1375.37L1598.53 1389.23M1608.33 1379.43L1594.47 1385.17" stroke="#0c9c10" stroke-width="3.15" fill="none"/>
<path d="M1473 1379V1398M1464.5 1379H1481.5M1464.5 1398H1481.5" fill="none" stroke="#7e4508" stroke-width="4" stroke-linecap="butt"/>
<path d="M1537.2 1370.2V1392M1528.7 1370.2H1545.7M1528.7 1392H1545.7" fill="none" stroke="#7e4508" stroke-width="4" stroke-linecap="butt"/>
<path d="M1601.4 1361.7V1384M1592.9 1361.7H1609.9M1592.9 1384H1609.9" fill="none" stroke="#7e4508" stroke-width="4" stroke-linecap="butt"/>
<polyline points="1085.2,1502 1149.4,1504.6 1213.6,1505.3 1279,1475.2 1343,1465.9 1407.2,1453.8 1473,1388.4 1537.2,1381 1601.4,1371.4" fill="none" stroke="#7e4508" stroke-width="6.4" stroke-linejoin="round" stroke-linecap="round"/>
<path d="M1085.2 1508.65L1091.15 1497.1L1079.25 1497.1Z" fill="#7e4508" stroke="#7e4508" stroke-width="3" stroke-linejoin="round"/>
<path d="M1149.4 1511.25L1155.35 1499.7L1143.45 1499.7Z" fill="#7e4508" stroke="#7e4508" stroke-width="3" stroke-linejoin="round"/>
<path d="M1213.6 1511.95L1219.55 1500.4L1207.65 1500.4Z" fill="#7e4508" stroke="#7e4508" stroke-width="3" stroke-linejoin="round"/>
<path d="M1279 1481.85L1284.95 1470.3L1273.05 1470.3Z" fill="#7e4508" stroke="#7e4508" stroke-width="3" stroke-linejoin="round"/>
<path d="M1343 1472.55L1348.95 1461L1337.05 1461Z" fill="#7e4508" stroke="#7e4508" stroke-width="3" stroke-linejoin="round"/>
<path d="M1407.2 1460.45L1413.15 1448.9L1401.25 1448.9Z" fill="#7e4508" stroke="#7e4508" stroke-width="3" stroke-linejoin="round"/>
<path d="M1473 1395.05L1478.95 1383.5L1467.05 1383.5Z" fill="#7e4508" stroke="#7e4508" stroke-width="3" stroke-linejoin="round"/>
<path d="M1537.2 1387.65L1543.15 1376.1L1531.25 1376.1Z" fill="#7e4508" stroke="#7e4508" stroke-width="3" stroke-linejoin="round"/>
<path d="M1601.4 1378.05L1607.35 1366.5L1595.45 1366.5Z" fill="#7e4508" stroke="#7e4508" stroke-width="3" stroke-linejoin="round"/>
<path d="M1279 1441V1466.6M1270 1441H1288M1270 1466.6H1288" fill="none" stroke="#000" stroke-width="4.2" stroke-linecap="butt"/>
<path d="M1343 1436.3V1466M1334 1436.3H1352M1334 1466H1352" fill="none" stroke="#000" stroke-width="4.2" stroke-linecap="butt"/>
<path d="M1407.2 1430V1460M1398.2 1430H1416.2M1398.2 1460H1416.2" fill="none" stroke="#000" stroke-width="4.2" stroke-linecap="butt"/>
<path d="M1473 1309.7V1356.9M1464 1309.7H1482M1464 1356.9H1482" fill="none" stroke="#000" stroke-width="4.2" stroke-linecap="butt"/>
<path d="M1537.2 1310.9V1358.1M1528.2 1310.9H1546.2M1528.2 1358.1H1546.2" fill="none" stroke="#000" stroke-width="4.2" stroke-linecap="butt"/>
<path d="M1601.4 1309.7V1356.9M1592.4 1309.7H1610.4M1592.4 1356.9H1610.4" fill="none" stroke="#000" stroke-width="4.2" stroke-linecap="butt"/>
<polyline points="1085.2,1501 1149.4,1503 1213.6,1503 1279,1453.5 1343,1451.3 1407.2,1445.3 1473,1332.7 1537.2,1333.2 1601.4,1333.2" fill="none" stroke="#000" stroke-width="6.4" stroke-linejoin="round" stroke-linecap="round"/>
<path d="M1085.2 1493.16L1091.5 1501L1085.2 1508.84L1078.9 1501Z" fill="#000"/>
<path d="M1149.4 1495.16L1155.7 1503L1149.4 1510.84L1143.1 1503Z" fill="#000"/>
<path d="M1213.6 1495.16L1219.9 1503L1213.6 1510.84L1207.3 1503Z" fill="#000"/>
<path d="M1279 1445.66L1285.3 1453.5L1279 1461.34L1272.7 1453.5Z" fill="#000"/>
<path d="M1343 1443.46L1349.3 1451.3L1343 1459.14L1336.7 1451.3Z" fill="#000"/>
<path d="M1407.2 1437.46L1413.5 1445.3L1407.2 1453.14L1400.9 1445.3Z" fill="#000"/>
<path d="M1473 1324.86L1479.3 1332.7L1473 1340.54L1466.7 1332.7Z" fill="#000"/>
<path d="M1537.2 1325.36L1543.5 1333.2L1537.2 1341.04L1530.9 1333.2Z" fill="#000"/>
<path d="M1601.4 1325.36L1607.7 1333.2L1601.4 1341.04L1595.1 1333.2Z" fill="#000"/>
<path d="M1473 1200V1236M1464.5 1200H1481.5M1464.5 1236H1481.5" fill="none" stroke="#07159a" stroke-width="4" stroke-linecap="butt"/>
<path d="M1537.2 1201V1234.9M1528.7 1201H1545.7M1528.7 1234.9H1545.7" fill="none" stroke="#07159a" stroke-width="4" stroke-linecap="butt"/>
<path d="M1601.4 1192V1227M1592.9 1192H1609.9M1592.9 1227H1609.9" fill="none" stroke="#07159a" stroke-width="4" stroke-linecap="butt"/>
<polyline points="1085.2,1490 1149.4,1491.3 1213.6,1491.3 1279,1384.7 1343,1359.3 1407.2,1342.4 1473,1217.9 1537.2,1217.9 1601.4,1209.4" fill="none" stroke="#07159a" stroke-width="6.4" stroke-linejoin="round" stroke-linecap="round"/>
<rect x="1078.7" y="1483.5" width="13" height="13" fill="#2024c8" stroke="#07159a" stroke-width="3"/>
<rect x="1142.9" y="1484.8" width="13" height="13" fill="#2024c8" stroke="#07159a" stroke-width="3"/>
<rect x="1207.1" y="1484.8" width="13" height="13" fill="#2024c8" stroke="#07159a" stroke-width="3"/>
<rect x="1272.5" y="1378.2" width="13" height="13" fill="#2024c8" stroke="#07159a" stroke-width="3"/>
<rect x="1336.5" y="1352.8" width="13" height="13" fill="#2024c8" stroke="#07159a" stroke-width="3"/>
<rect x="1400.7" y="1335.9" width="13" height="13" fill="#2024c8" stroke="#07159a" stroke-width="3"/>
<rect x="1466.5" y="1211.4" width="13" height="13" fill="#2024c8" stroke="#07159a" stroke-width="3"/>
<rect x="1530.7" y="1211.4" width="13" height="13" fill="#2024c8" stroke="#07159a" stroke-width="3"/>
<rect x="1594.9" y="1202.9" width="13" height="13" fill="#2024c8" stroke="#07159a" stroke-width="3"/>
<path d="M1343 1438V1459.8M1334 1438H1352M1334 1459.8H1352" fill="none" stroke="#bb3cf0" stroke-width="4.2" stroke-linecap="butt"/>
<path d="M1407.2 1427V1457M1398.2 1427H1416.2M1398.2 1457H1416.2" fill="none" stroke="#bb3cf0" stroke-width="4.2" stroke-linecap="butt"/>
<path d="M1473 1305.3V1378M1464 1305.3H1482M1464 1378H1482" fill="none" stroke="#bb3cf0" stroke-width="4.2" stroke-linecap="butt"/>
<path d="M1537.2 1293V1366.6M1528.2 1293H1546.2M1528.2 1366.6H1546.2" fill="none" stroke="#bb3cf0" stroke-width="4.2" stroke-linecap="butt"/>
<path d="M1601.4 1280.9V1352M1592.4 1280.9H1610.4M1592.4 1352H1610.4" fill="none" stroke="#bb3cf0" stroke-width="4.2" stroke-linecap="butt"/>
<polyline points="1085.2,1491.3 1149.4,1493.2 1213.6,1493.7 1279,1446 1343,1450.6 1407.2,1444 1473,1340 1537.2,1329 1601.4,1316.5" fill="none" stroke="#bb3cf0" stroke-width="6.4" stroke-linejoin="round" stroke-linecap="round"/>
<path d="M1085.2 1482.1L1093.84 1498.1L1076.56 1498.1Z" fill="#bb3cf0"/>
<path d="M1149.4 1484L1158.04 1500L1140.76 1500Z" fill="#bb3cf0"/>
<path d="M1213.6 1484.5L1222.24 1500.5L1204.96 1500.5Z" fill="#bb3cf0"/>
<path d="M1279 1436.8L1287.64 1452.8L1270.36 1452.8Z" fill="#bb3cf0"/>
<path d="M1343 1441.4L1351.64 1457.4L1334.36 1457.4Z" fill="#bb3cf0"/>
<path d="M1407.2 1434.8L1415.84 1450.8L1398.56 1450.8Z" fill="#bb3cf0"/>
<path d="M1473 1330.8L1481.64 1346.8L1464.36 1346.8Z" fill="#bb3cf0"/>
<path d="M1537.2 1319.8L1545.84 1335.8L1528.56 1335.8Z" fill="#bb3cf0"/>
<path d="M1601.4 1307.3L1610.04 1323.3L1592.76 1323.3Z" fill="#bb3cf0"/>
<path d="M1279 1372.2V1405.5M1270 1372.2H1288M1270 1405.5H1288" fill="none" stroke="#ff2a00" stroke-width="4.2" stroke-linecap="butt"/>
<path d="M1343 1340.7V1384M1334 1340.7H1352M1334 1384H1352" fill="none" stroke="#ff2a00" stroke-width="4.2" stroke-linecap="butt"/>
<path d="M1407.2 1317.7V1364.2M1398.2 1317.7H1416.2M1398.2 1364.2H1416.2" fill="none" stroke="#ff2a00" stroke-width="4.2" stroke-linecap="butt"/>
<path d="M1473 1179.2V1231.7M1464 1179.2H1482M1464 1231.7H1482" fill="none" stroke="#ff2a00" stroke-width="4.2" stroke-linecap="butt"/>
<path d="M1537.2 1178.5V1231.2M1528.2 1178.5H1546.2M1528.2 1231.2H1546.2" fill="none" stroke="#ff2a00" stroke-width="4.2" stroke-linecap="butt"/>
<path d="M1601.4 1173.8V1225.2M1592.4 1173.8H1610.4M1592.4 1225.2H1610.4" fill="none" stroke="#ff2a00" stroke-width="4.2" stroke-linecap="butt"/>
<polyline points="1085.2,1480.4 1149.4,1481.6 1213.6,1481.6 1279,1388.7 1343,1361 1407.2,1341.2 1473,1204.6 1537.2,1204.6 1601.4,1199.8" fill="none" stroke="#ff2a00" stroke-width="6.4" stroke-linejoin="round" stroke-linecap="round"/>
<circle cx="1085.2" cy="1480.4" r="7.6" fill="#ff2a00"/>
<circle cx="1149.4" cy="1481.6" r="7.6" fill="#ff2a00"/>
<circle cx="1213.6" cy="1481.6" r="7.6" fill="#ff2a00"/>
<circle cx="1279" cy="1388.7" r="7.6" fill="#ff2a00"/>
<circle cx="1343" cy="1361" r="7.6" fill="#ff2a00"/>
<circle cx="1407.2" cy="1341.2" r="7.6" fill="#ff2a00"/>
<circle cx="1473" cy="1204.6" r="7.6" fill="#ff2a00"/>
<circle cx="1537.2" cy="1204.6" r="7.6" fill="#ff2a00"/>
<circle cx="1601.4" cy="1199.8" r="7.6" fill="#ff2a00"/>
<line x1="1231" y1="1127.9" x2="1231" y2="1533.8" stroke="#000" stroke-width="6.4" stroke-linecap="round" stroke-dasharray="16.6 14.4"/>
<line x1="1424.6" y1="1120.6" x2="1424.6" y2="1525.3" stroke="#000" stroke-width="6.4" stroke-linecap="round" stroke-dasharray="16.6 14.4"/>
<line x1="1072.8" y1="1120.3" x2="1072.8" y2="1532" stroke="#000" stroke-width="4.4"/>
<line x1="1065.9" y1="1529.5" x2="1657.2" y2="1529.5" stroke="#000" stroke-width="5"/>
<line x1="1065.9" y1="1447.95" x2="1073.5" y2="1447.95" stroke="#000" stroke-width="4.2"/>
<line x1="1065.9" y1="1366.4" x2="1073.5" y2="1366.4" stroke="#000" stroke-width="4.2"/>
<line x1="1065.9" y1="1284.85" x2="1073.5" y2="1284.85" stroke="#000" stroke-width="4.2"/>
<line x1="1065.9" y1="1203.3" x2="1073.5" y2="1203.3" stroke="#000" stroke-width="4.2"/>
<line x1="1065.9" y1="1121.75" x2="1073.5" y2="1121.75" stroke="#000" stroke-width="4.2"/>
<line x1="1072.6" y1="1529.5" x2="1072.6" y2="1536.8" stroke="#000" stroke-width="4.4"/>
<line x1="1266.9" y1="1529.5" x2="1266.9" y2="1536.8" stroke="#000" stroke-width="4.4"/>
<line x1="1461.2" y1="1529.5" x2="1461.2" y2="1536.8" stroke="#000" stroke-width="4.4"/>
<line x1="1655.5" y1="1529.5" x2="1655.5" y2="1536.8" stroke="#000" stroke-width="4.4"/>
<text transform="translate(1041.75 1540.1) scale(0.9500 1)" font-size="29.94" font-weight="bold" stroke="#000" stroke-width="0.9" stroke-linejoin="round">0</text>
<text transform="translate(1025.93 1458.55) scale(0.9500 1)" font-size="29.94" font-weight="bold" stroke="#000" stroke-width="0.9" stroke-linejoin="round">20</text>
<text transform="translate(1025.93 1377) scale(0.9500 1)" font-size="29.94" font-weight="bold" stroke="#000" stroke-width="0.9" stroke-linejoin="round">40</text>
<text transform="translate(1025.93 1295.45) scale(0.9500 1)" font-size="29.94" font-weight="bold" stroke="#000" stroke-width="0.9" stroke-linejoin="round">60</text>
<text transform="translate(1025.93 1213.9) scale(0.9500 1)" font-size="29.94" font-weight="bold" stroke="#000" stroke-width="0.9" stroke-linejoin="round">80</text>
<text transform="translate(1010.11 1132.35) scale(0.9500 1)" font-size="29.94" font-weight="bold" stroke="#000" stroke-width="0.9" stroke-linejoin="round">100</text>
<text transform="translate(1064.71 1572.6) scale(0.9600 1)" font-size="29.65" font-weight="bold" stroke="#000" stroke-width="0.89" stroke-linejoin="round">0</text>
<text transform="translate(1251.16 1572.6) scale(0.9600 1)" font-size="29.65" font-weight="bold" stroke="#000" stroke-width="0.89" stroke-linejoin="round">20</text>
<text transform="translate(1445.74 1572.6) scale(0.9600 1)" font-size="29.65" font-weight="bold" stroke="#000" stroke-width="0.89" stroke-linejoin="round">40</text>
<text transform="translate(1639.73 1572.6) scale(0.9600 1)" font-size="29.65" font-weight="bold" stroke="#000" stroke-width="0.89" stroke-linejoin="round">60</text>
<text transform="translate(1252.65 1614.8) scale(0.9815 1)" font-size="31.98" font-weight="bold" stroke="#000" stroke-width="0.96" stroke-linejoin="round">Time (minutes)</text>
<text transform="translate(976.4 1529.5) rotate(-90) scale(0.9737 1)" font-size="33.72" font-weight="bold" stroke="#000" stroke-width="1.01" stroke-linejoin="round">ECAR (mpH/min/Cyquant)</text>
<text transform="translate(1184.54 1091.5) scale(0.9670 1)" font-size="33.43" stroke="#000" stroke-width="0.67" stroke-linejoin="round">10mM</text>
<text transform="translate(1365.09 1083.5) scale(0.9344 1)" font-size="34.01" stroke="#000" stroke-width="0.68" stroke-linejoin="round">Rot/Anti</text>
<line x1="1657.4" y1="1135.6" x2="1698.2" y2="1135.6" stroke="#ff2a00" stroke-width="6.2" stroke-linecap="round"/>
<circle cx="1677.8" cy="1135.6" r="7.4" fill="#ff2a00"/>
<text transform="translate(1721.12 1147.5) scale(0.9133 1)" font-size="35.18" stroke="#000" stroke-width="0.7" stroke-linejoin="round">U87MG</text>
<line x1="1654.8" y1="1175.8" x2="1695.6" y2="1175.8" stroke="#000" stroke-width="6.2" stroke-linecap="round"/>
<path d="M1675.2 1168.41L1681.14 1175.8L1675.2 1183.19L1669.26 1175.8Z" fill="#000"/>
<text transform="translate(1719.1 1187.6) scale(0.8840 1)" font-size="35.18" stroke="#000" stroke-width="0.7" stroke-linejoin="round">U118MG</text>
<line x1="1657.4" y1="1218.6" x2="1698.2" y2="1218.6" stroke="#bb3cf0" stroke-width="6.2" stroke-linecap="round"/>
<path d="M1677.8 1211.01L1684.93 1224.21L1670.67 1224.21Z" fill="#bb3cf0"/>
<text transform="translate(1721.15 1230) scale(0.9024 1)" font-size="35.18" stroke="#000" stroke-width="0.7" stroke-linejoin="round">U251MG</text>
<line x1="1657.4" y1="1261.4" x2="1698.2" y2="1261.4" stroke="#07159a" stroke-width="6.2" stroke-linecap="round"/>
<rect x="1671.9" y="1255.5" width="11.8" height="11.8" fill="#2024c8" stroke="#07159a" stroke-width="3"/>
<text transform="translate(1722.9 1272.4) scale(0.8906 1)" font-size="35.18" stroke="#000" stroke-width="0.7" stroke-linejoin="round">T98G</text>
<line x1="1657.4" y1="1299.8" x2="1698.2" y2="1299.8" stroke="#7e4508" stroke-width="6.2" stroke-linecap="round"/>
<path d="M1677.8 1306.07L1683.41 1295.18L1672.19 1295.18Z" fill="#7e4508" stroke="#7e4508" stroke-width="3" stroke-linejoin="round"/>
<text transform="translate(1720.99 1311.9) scale(0.9062 1)" font-size="35.18" stroke="#000" stroke-width="0.7" stroke-linejoin="round">LN18</text>
<line x1="1657.4" y1="1338.8" x2="1698.2" y2="1338.8" stroke="#0c9c10" stroke-width="6.2" stroke-linecap="round"/>
<circle cx="1677.8" cy="1338.8" r="4.09" fill="#0c9c10"/><path d="M1671.7 1336.27L1683.9 1341.33M1675.27 1332.7L1680.33 1344.9M1680.33 1332.7L1675.27 1344.9M1683.9 1336.27L1671.7 1341.33" stroke="#0c9c10" stroke-width="2.77" fill="none"/>
<text transform="translate(1721 1350.7) scale(0.9001 1)" font-size="35.18" stroke="#000" stroke-width="0.7" stroke-linejoin="round">LN229</text>
</g>
<g id="panel-E">
<text transform="translate(5.45 1776.7) scale(0.7674 1)" font-size="43.9" font-weight="bold" stroke="#000" stroke-width="1.32" stroke-linejoin="round">E</text>
<path d="M169.15 2296.5V2307.8M161.4 2296.5H176.9" fill="none" stroke="#000" stroke-width="5" stroke-linecap="round"/>
<rect x="150" y="2305.8" width="38.3" height="37.2" fill="#000"/>
<path d="M215.75 2025.9V2066M208 2025.9H223.5" fill="none" stroke="#c11920" stroke-width="5" stroke-linecap="round"/>
<rect x="196.6" y="2064" width="38.3" height="279" fill="#c11920"/>
<path d="M293.8 2308.2V2315.2M286.05 2308.2H301.55" fill="none" stroke="#000" stroke-width="5" stroke-linecap="round"/>
<rect x="274.65" y="2313.2" width="38.3" height="29.8" fill="#000"/>
<path d="M340.4 2108.1V2161.4M332.65 2108.1H348.15" fill="none" stroke="#c11920" stroke-width="5" stroke-linecap="round"/>
<rect x="321.25" y="2159.4" width="38.3" height="183.6" fill="#c11920"/>
<path d="M418.45 2321.3V2327.2M410.7 2321.3H426.2" fill="none" stroke="#000" stroke-width="5" stroke-linecap="round"/>
<rect x="399.3" y="2325.2" width="38.3" height="17.8" fill="#000"/>
<path d="M465.05 2120V2135.2M457.3 2120H472.8" fill="none" stroke="#c11920" stroke-width="5" stroke-linecap="round"/>
<rect x="445.9" y="2133.2" width="38.3" height="209.8" fill="#c11920"/>
<path d="M543.1 2333.2V2337.7M535.35 2333.2H550.85" fill="none" stroke="#000" stroke-width="5" stroke-linecap="round"/>
<rect x="523.95" y="2335.7" width="38.3" height="7.3" fill="#000"/>
<path d="M589.7 2163.1V2188.6M581.95 2163.1H597.45" fill="none" stroke="#c11920" stroke-width="5" stroke-linecap="round"/>
<rect x="570.55" y="2186.6" width="38.3" height="156.4" fill="#c11920"/>
<path d="M667.75 2332.6V2339M660 2332.6H675.5" fill="none" stroke="#000" stroke-width="5" stroke-linecap="round"/>
<rect x="648.6" y="2337" width="38.3" height="6" fill="#000"/>
<path d="M714.35 2267.7V2282.6M706.6 2267.7H722.1" fill="none" stroke="#c11920" stroke-width="5" stroke-linecap="round"/>
<rect x="695.2" y="2280.6" width="38.3" height="62.4" fill="#c11920"/>
<path d="M792.4 2121.5V2170.4M784.65 2121.5H800.15" fill="none" stroke="#000" stroke-width="5" stroke-linecap="round"/>
<rect x="773.25" y="2168.4" width="38.3" height="174.6" fill="#000"/>
<path d="M839 1956.9V2025.3M831.25 1956.9H846.75" fill="none" stroke="#c11920" stroke-width="5" stroke-linecap="round"/>
<rect x="819.85" y="2023.3" width="38.3" height="319.7" fill="#c11920"/>
<line x1="138.2" y1="1866.2" x2="138.2" y2="2346.6" stroke="#000" stroke-width="6.6"/>
<line x1="118.8" y1="2343" x2="873.2" y2="2343" stroke="#000" stroke-width="7.3"/>
<line x1="119.9" y1="2185.25" x2="139" y2="2185.25" stroke="#000" stroke-width="7"/>
<line x1="119.9" y1="2027.5" x2="139" y2="2027.5" stroke="#000" stroke-width="7"/>
<line x1="119.9" y1="1869.75" x2="139" y2="1869.75" stroke="#000" stroke-width="7"/>
<line x1="192.5" y1="2344" x2="192.5" y2="2361" stroke="#000" stroke-width="7"/>
<line x1="317.1" y1="2344" x2="317.1" y2="2361" stroke="#000" stroke-width="7"/>
<line x1="441.7" y1="2344" x2="441.7" y2="2361" stroke="#000" stroke-width="7"/>
<line x1="566.3" y1="2344" x2="566.3" y2="2361" stroke="#000" stroke-width="7"/>
<line x1="690.9" y1="2344" x2="690.9" y2="2361" stroke="#000" stroke-width="7"/>
<line x1="815.5" y1="2344" x2="815.5" y2="2361" stroke="#000" stroke-width="7"/>
<text transform="translate(97.55 2356.2) scale(0.9250 1)" font-size="38.37" stroke="#000" stroke-width="0.77" stroke-linejoin="round">0</text>
<text transform="translate(58.06 2198.45) scale(0.9250 1)" font-size="38.37" stroke="#000" stroke-width="0.77" stroke-linejoin="round">100</text>
<text transform="translate(58.06 2040.7) scale(0.9250 1)" font-size="38.37" stroke="#000" stroke-width="0.77" stroke-linejoin="round">200</text>
<text transform="translate(58.06 1882.95) scale(0.9250 1)" font-size="38.37" stroke="#000" stroke-width="0.77" stroke-linejoin="round">300</text>
<text transform="translate(44.4 2301.11) rotate(-90) scale(0.8934 1)" font-size="43.17" font-weight="bold" stroke="#000" stroke-width="1.3" stroke-linejoin="round"><tspan font-style="italic">μ</tspan>g glycogen/10<tspan font-size="31" dy="-16.5">6</tspan><tspan dy="16.5"> cells</tspan></text>
<text x="197.9" y="2022.78" font-size="37.42" stroke="#000" stroke-width="0.75" stroke-linejoin="round">***</text>
<text x="326.78" y="2110.83" font-size="38.31" stroke="#000" stroke-width="0.77" stroke-linejoin="round">**</text>
<text x="440.8" y="2113.98" font-size="37.42" stroke="#000" stroke-width="0.75" stroke-linejoin="round">***</text>
<text x="568.28" y="2159.38" font-size="38.21" stroke="#000" stroke-width="0.76" stroke-linejoin="round">***</text>
<text x="698.31" y="2256.24" font-size="36.57" stroke="#000" stroke-width="0.73" stroke-linejoin="round">**</text>
<text x="830.91" y="1947.24" font-size="36.37" stroke="#000" stroke-width="0.73" stroke-linejoin="round">*</text>
<text transform="translate(201.6 2389.5) rotate(-45) scale(0.9650 1)" font-size="41.5" text-anchor="end" font-weight="bold" stroke="#000" stroke-width="1.24" stroke-linejoin="round">U87MG</text>
<text transform="translate(326.1 2389.5) rotate(-45) scale(0.9650 1)" font-size="41.5" text-anchor="end" font-weight="bold" stroke="#000" stroke-width="1.24" stroke-linejoin="round">T98G</text>
<text transform="translate(450.6 2389.5) rotate(-45) scale(0.9650 1)" font-size="41.5" text-anchor="end" font-weight="bold" stroke="#000" stroke-width="1.24" stroke-linejoin="round">U118MG</text>
<text transform="translate(575.1 2389.5) rotate(-45) scale(0.9650 1)" font-size="41.5" text-anchor="end" font-weight="bold" stroke="#000" stroke-width="1.24" stroke-linejoin="round">U251MG</text>
<text transform="translate(699.6 2389.5) rotate(-45) scale(0.9650 1)" font-size="41.5" text-anchor="end" font-weight="bold" stroke="#000" stroke-width="1.24" stroke-linejoin="round">LN18</text>
<text transform="translate(824.1 2389.5) rotate(-45) scale(0.9650 1)" font-size="41.5" text-anchor="end" font-weight="bold" stroke="#000" stroke-width="1.24" stroke-linejoin="round">LN229</text>
<rect x="553.1" y="1821.9" width="60.5" height="31.1" fill="#000"/>
<rect x="553.1" y="1868.1" width="60.5" height="30.9" fill="#c11920"/>
<text transform="translate(637.62 1849.9) scale(1.0074 1)" font-size="36.05" stroke="#000" stroke-width="0.72" stroke-linejoin="round">Normoxia</text>
<text transform="translate(637.61 1895.8) scale(1.0120 1)" font-size="36.05" stroke="#000" stroke-width="0.72" stroke-linejoin="round">Hypoxia</text>
</g>
<g id="panel-F">
<text transform="translate(925.4 1776.7) scale(0.8173 1)" font-size="43.9" font-weight="bold" stroke="#000" stroke-width="1.32" stroke-linejoin="round">F</text>
<line x1="1027.1" y1="1897" x2="1027.1" y2="2333" stroke="#000" stroke-width="2.1" stroke-dasharray="13.6 7"/>
<line x1="1106.5" y1="1897" x2="1106.5" y2="2333" stroke="#000" stroke-width="3.1" stroke-dasharray="13.6 7"/>
<line x1="1203.3" y1="1897" x2="1203.3" y2="2333" stroke="#000" stroke-width="3.4" stroke-dasharray="13.6 7"/>
<line x1="1383.2" y1="1897" x2="1383.2" y2="2333" stroke="#000" stroke-width="2.1" stroke-dasharray="13.6 7"/>
<line x1="1465.9" y1="1897" x2="1465.9" y2="2333" stroke="#000" stroke-width="3.2" stroke-dasharray="13.6 7"/>
<line x1="1619.5" y1="1897" x2="1619.5" y2="2333" stroke="#000" stroke-width="2.3" stroke-dasharray="13.6 7"/>
<line x1="1705" y1="1897" x2="1705" y2="2333" stroke="#000" stroke-width="3.5" stroke-dasharray="13.6 7"/>
<line x1="1116.7" y1="1896.1" x2="1196.6" y2="1896.1" stroke="#4a84c6" stroke-width="2.6"/>
<line x1="1384.7" y1="1883.3" x2="1464.7" y2="1883.3" stroke="#4a84c6" stroke-width="2.6"/>
<line x1="1624.9" y1="1881.6" x2="1704.6" y2="1881.6" stroke="#4a84c6" stroke-width="2.6"/>
<path d="M1014.5 2140.9V2152.9M1009.1 2140.9h10.8M1009.1 2152.9h10.8M1020.22 2152.02V2164.02M1014.82 2152.02h10.8M1014.82 2164.02h10.8M1025.94 2157.74V2169.74M1020.54 2157.74h10.8M1020.54 2169.74h10.8M1031.66 2159.78V2171.78M1026.26 2159.78h10.8M1026.26 2171.78h10.8M1037.38 2160.77V2172.77M1031.98 2160.77h10.8M1031.98 2172.77h10.8M1043.1 2158.79V2170.79M1037.7 2158.79h10.8M1037.7 2170.79h10.8M1048.82 2156.38V2168.38M1043.42 2156.38h10.8M1043.42 2168.38h10.8M1054.54 2150.3V2162.3M1049.14 2150.3h10.8M1049.14 2162.3h10.8M1060.26 2144V2156M1054.86 2144h10.8M1054.86 2156h10.8M1065.98 2136.01V2148.01M1060.58 2136.01h10.8M1060.58 2148.01h10.8M1071.7 2130.21V2142.21M1066.3 2130.21h10.8M1066.3 2142.21h10.8M1077.42 2126.86V2138.86M1072.02 2126.86h10.8M1072.02 2138.86h10.8M1083.14 2126.23V2138.23M1077.74 2126.23h10.8M1077.74 2138.23h10.8M1088.86 2127.69V2139.69M1083.46 2127.69h10.8M1083.46 2139.69h10.8M1094.58 2129.02V2141.02M1089.18 2129.02h10.8M1089.18 2141.02h10.8M1100.3 2126.61V2138.61M1094.9 2126.61h10.8M1094.9 2138.61h10.8M1106.02 2118.84V2138.84M1100.62 2118.84h10.8M1100.62 2138.84h10.8M1111.74 2103.22V2123.22M1106.34 2103.22h10.8M1106.34 2123.22h10.8M1117.46 2074.88V2094.88M1112.06 2074.88h10.8M1112.06 2094.88h10.8M1123.18 2044.39V2064.39M1117.78 2044.39h10.8M1117.78 2064.39h10.8M1128.9 2009.8V2029.8M1123.5 2009.8h10.8M1123.5 2029.8h10.8M1134.62 1975.35V1995.35M1129.22 1975.35h10.8M1129.22 1995.35h10.8M1140.34 1954.41V1974.41M1134.94 1954.41h10.8M1134.94 1974.41h10.8M1146.06 1946.2V1966.2M1140.66 1946.2h10.8M1140.66 1966.2h10.8M1151.78 1946.2V1966.2M1146.38 1946.2h10.8M1146.38 1966.2h10.8M1157.5 1944.9V1964.9M1152.1 1944.9h10.8M1152.1 1964.9h10.8M1163.22 1935.97V1955.97M1157.82 1935.97h10.8M1157.82 1955.97h10.8M1168.94 1919.46V1939.46M1163.54 1919.46h10.8M1163.54 1939.46h10.8M1174.66 1906.22V1926.22M1169.26 1906.22h10.8M1169.26 1926.22h10.8M1180.38 1895.59V1915.59M1174.98 1895.59h10.8M1174.98 1915.59h10.8M1186.1 1882.86V1902.86M1180.7 1882.86h10.8M1180.7 1902.86h10.8M1191.82 1873.52V1893.52M1186.42 1873.52h10.8M1186.42 1893.52h10.8M1197.54 1869.43V1889.43M1192.14 1869.43h10.8M1192.14 1889.43h10.8M1203.26 1877.05V1897.05M1197.86 1877.05h10.8M1197.86 1897.05h10.8M1208.98 1897.57V1917.57M1203.58 1897.57h10.8M1203.58 1917.57h10.8M1214.7 1926.98V1946.98M1209.3 1926.98h10.8M1209.3 1946.98h10.8M1220.42 1955.99V1975.99M1215.02 1955.99h10.8M1215.02 1975.99h10.8M1226.14 1976.38V1996.38M1220.74 1976.38h10.8M1220.74 1996.38h10.8M1231.86 1989.02V2009.02M1226.46 1989.02h10.8M1226.46 2009.02h10.8M1237.58 2001.2V2021.2M1232.18 2001.2h10.8M1232.18 2021.2h10.8M1243.3 2014.44V2034.44M1237.9 2014.44h10.8M1237.9 2034.44h10.8M1249.02 2026.69V2046.69M1243.62 2026.69h10.8M1243.62 2046.69h10.8M1254.74 2036.46V2056.46M1249.34 2036.46h10.8M1249.34 2056.46h10.8M1260.46 2042.68V2062.68M1255.06 2042.68h10.8M1255.06 2062.68h10.8M1266.18 2047.32V2067.32M1260.78 2047.32h10.8M1260.78 2067.32h10.8M1271.9 2049.96V2069.96M1266.5 2049.96h10.8M1266.5 2069.96h10.8M1277.62 2052.33V2072.33M1272.22 2052.33h10.8M1272.22 2072.33h10.8M1283.34 2053.25V2073.25M1277.94 2053.25h10.8M1277.94 2073.25h10.8M1289.06 2054.12V2074.12M1283.66 2054.12h10.8M1283.66 2074.12h10.8M1294.78 2055.68V2075.68M1289.38 2055.68h10.8M1289.38 2075.68h10.8M1300.5 2061.07V2074.07M1295.1 2061.07h10.8M1295.1 2074.07h10.8M1306.22 2068.21V2081.21M1300.82 2068.21h10.8M1300.82 2081.21h10.8M1311.94 2082.2V2095.2M1306.54 2082.2h10.8M1306.54 2095.2h10.8M1317.66 2097.11V2110.11M1312.26 2097.11h10.8M1312.26 2110.11h10.8M1323.38 2109.29V2122.29M1317.98 2109.29h10.8M1317.98 2122.29h10.8M1329.1 2120.64V2133.64M1323.7 2120.64h10.8M1323.7 2133.64h10.8M1334.82 2129.39V2142.39M1329.42 2129.39h10.8M1329.42 2142.39h10.8M1340.54 2136.6V2146.6M1335.14 2136.6h10.8M1335.14 2146.6h10.8M1346.26 2136.6V2146.6M1340.86 2136.6h10.8M1340.86 2146.6h10.8M1351.98 2131.73V2141.73M1346.58 2131.73h10.8M1346.58 2141.73h10.8M1357.7 2122.75V2132.75M1352.3 2122.75h10.8M1352.3 2132.75h10.8M1363.42 2114.91V2124.91M1358.02 2114.91h10.8M1358.02 2124.91h10.8M1369.14 2111.63V2121.63M1363.74 2111.63h10.8M1363.74 2121.63h10.8M1374.86 2116.16V2126.16M1369.46 2116.16h10.8M1369.46 2126.16h10.8M1380.58 2127.06V2137.06M1375.18 2127.06h10.8M1375.18 2137.06h10.8M1386.3 2131.43V2141.43M1380.9 2131.43h10.8M1380.9 2141.43h10.8M1392.02 2131.03V2141.03M1386.62 2131.03h10.8M1386.62 2141.03h10.8M1397.74 2127.71V2137.71M1392.34 2127.71h10.8M1392.34 2137.71h10.8M1403.46 2113.96V2132.96M1398.06 2113.96h10.8M1398.06 2132.96h10.8M1409.18 2106.72V2125.72M1403.78 2106.72h10.8M1403.78 2125.72h10.8M1414.9 2106.05V2125.05M1409.5 2106.05h10.8M1409.5 2125.05h10.8M1420.62 2112.69V2131.69M1415.22 2112.69h10.8M1415.22 2131.69h10.8M1426.34 2119.73V2138.73M1420.94 2119.73h10.8M1420.94 2138.73h10.8M1432.06 2121.64V2140.64M1426.66 2121.64h10.8M1426.66 2140.64h10.8M1437.78 2115.92V2134.92M1432.38 2115.92h10.8M1432.38 2134.92h10.8M1443.5 2117.6V2136.6M1438.1 2117.6h10.8M1438.1 2136.6h10.8M1449.22 2126.53V2145.53M1443.82 2126.53h10.8M1443.82 2145.53h10.8M1454.94 2140.26V2159.26M1449.54 2140.26h10.8M1449.54 2159.26h10.8M1460.66 2148.8V2167.8M1455.26 2148.8h10.8M1455.26 2167.8h10.8M1466.38 2149.02V2168.02M1460.98 2149.02h10.8M1460.98 2168.02h10.8M1472.1 2140.36V2159.36M1466.7 2140.36h10.8M1466.7 2159.36h10.8M1477.82 2127.45V2146.45M1472.42 2127.45h10.8M1472.42 2146.45h10.8M1483.54 2118.99V2139.99M1478.14 2118.99h10.8M1478.14 2139.99h10.8M1489.26 2115.66V2136.66M1483.86 2115.66h10.8M1483.86 2136.66h10.8M1494.98 2115.21V2136.21M1489.58 2115.21h10.8M1489.58 2136.21h10.8M1500.7 2114.76V2135.76M1495.3 2114.76h10.8M1495.3 2135.76h10.8M1506.42 2115.44V2136.44M1501.02 2115.44h10.8M1501.02 2136.44h10.8M1512.14 2116.29V2137.29M1506.74 2116.29h10.8M1506.74 2137.29h10.8M1517.86 2116.6V2137.6M1512.46 2116.6h10.8M1512.46 2137.6h10.8M1523.58 2116.6V2137.6M1518.18 2116.6h10.8M1518.18 2137.6h10.8M1529.3 2117.75V2138.75M1523.9 2117.75h10.8M1523.9 2138.75h10.8M1535.02 2119.88V2140.88M1529.62 2119.88h10.8M1529.62 2140.88h10.8M1540.74 2122.11V2134.11M1535.34 2122.11h10.8M1535.34 2134.11h10.8M1546.46 2117.94V2129.94M1541.06 2117.94h10.8M1541.06 2129.94h10.8M1552.18 2113.16V2125.16M1546.78 2113.16h10.8M1546.78 2125.16h10.8M1557.9 2113.42V2125.42M1552.5 2113.42h10.8M1552.5 2125.42h10.8M1563.62 2119.05V2131.05M1558.22 2119.05h10.8M1558.22 2131.05h10.8M1569.34 2127.04V2139.04M1563.94 2127.04h10.8M1563.94 2139.04h10.8M1575.06 2130.66V2142.66M1569.66 2130.66h10.8M1569.66 2142.66h10.8M1580.78 2132.27V2144.27M1575.38 2132.27h10.8M1575.38 2144.27h10.8M1586.5 2130.54V2142.54M1581.1 2130.54h10.8M1581.1 2142.54h10.8M1592.22 2129.03V2141.03M1586.82 2129.03h10.8M1586.82 2141.03h10.8M1597.94 2128.09V2140.09M1592.54 2128.09h10.8M1592.54 2140.09h10.8M1603.66 2128.35V2140.35M1598.26 2128.35h10.8M1598.26 2140.35h10.8M1609.38 2130.62V2142.62M1603.98 2130.62h10.8M1603.98 2142.62h10.8M1615.1 2134.75V2146.75M1609.7 2134.75h10.8M1609.7 2146.75h10.8M1620.82 2139.37V2151.37M1615.42 2139.37h10.8M1615.42 2151.37h10.8M1626.54 2143.89V2155.89M1621.14 2143.89h10.8M1621.14 2155.89h10.8M1632.26 2149.16V2161.16M1626.86 2149.16h10.8M1626.86 2161.16h10.8M1637.98 2157.89V2169.89M1632.58 2157.89h10.8M1632.58 2169.89h10.8M1643.7 2176.13V2193.13M1638.3 2176.13h10.8M1638.3 2193.13h10.8M1649.42 2212.09V2229.09M1644.02 2212.09h10.8M1644.02 2229.09h10.8M1655.14 2254.84V2271.84M1649.74 2254.84h10.8M1649.74 2271.84h10.8M1660.86 2292.74V2309.74M1655.46 2292.74h10.8M1655.46 2309.74h10.8M1666.58 2313.73V2330.73M1661.18 2313.73h10.8M1661.18 2330.73h10.8M1672.3 2318.38V2335.38M1666.9 2318.38h10.8M1666.9 2335.38h10.8M1678.02 2315.28V2332.28M1672.62 2315.28h10.8M1672.62 2332.28h10.8M1683.74 2309.64V2326.64M1678.34 2309.64h10.8M1678.34 2326.64h10.8M1689.46 2299.48V2316.48M1684.06 2299.48h10.8M1684.06 2316.48h10.8M1695.18 2285.84V2302.84M1689.78 2285.84h10.8M1689.78 2302.84h10.8M1700.9 2270.41V2287.41M1695.5 2270.41h10.8M1695.5 2287.41h10.8M1706.62 2256.15V2273.15M1701.22 2256.15h10.8M1701.22 2273.15h10.8M1712.34 2239.03V2256.03M1706.94 2239.03h10.8M1706.94 2256.03h10.8M1718.06 2223.9V2240.9M1712.66 2223.9h10.8M1712.66 2240.9h10.8M1723.78 2209.52V2226.52M1718.38 2209.52h10.8M1718.38 2226.52h10.8M1729.5 2198.7V2215.7M1724.1 2198.7h10.8M1724.1 2215.7h10.8M1735.22 2188.7V2205.7M1729.82 2188.7h10.8M1729.82 2205.7h10.8M1740.94 2179.04V2196.04M1735.54 2179.04h10.8M1735.54 2196.04h10.8M1746.66 2170.46V2187.46M1741.26 2170.46h10.8M1741.26 2187.46h10.8M1752.38 2159.04V2176.04M1746.98 2159.04h10.8M1746.98 2176.04h10.8M1758.1 2146.47V2163.47M1752.7 2146.47h10.8M1752.7 2163.47h10.8M1763.82 2132.19V2149.19M1758.42 2132.19h10.8M1758.42 2149.19h10.8M1769.54 2117.81V2134.81M1764.14 2117.81h10.8M1764.14 2134.81h10.8M1775.26 2108.49V2125.49M1769.86 2108.49h10.8M1769.86 2125.49h10.8M1780.98 2102.45V2119.45M1775.58 2102.45h10.8M1775.58 2119.45h10.8M1786.7 2100.43V2117.43M1781.3 2100.43h10.8M1781.3 2117.43h10.8" fill="none" stroke="#e6000c" stroke-width="1.8"/>
<polyline points="1014.5,2146.9 1020.22,2158.02 1025.94,2163.74 1031.66,2165.78 1037.38,2166.77 1043.1,2164.79 1048.82,2162.38 1054.54,2156.3 1060.26,2150 1065.98,2142.01 1071.7,2136.21 1077.42,2132.86 1083.14,2132.23 1088.86,2133.69 1094.58,2135.02 1100.3,2132.61 1106.02,2128.84 1111.74,2113.22 1117.46,2084.88 1123.18,2054.39 1128.9,2019.8 1134.62,1985.35 1140.34,1964.41 1146.06,1956.2 1151.78,1956.2 1157.5,1954.9 1163.22,1945.97 1168.94,1929.46 1174.66,1916.22 1180.38,1905.59 1186.1,1892.86 1191.82,1883.52 1197.54,1879.43 1203.26,1887.05 1208.98,1907.57 1214.7,1936.98 1220.42,1965.99 1226.14,1986.38 1231.86,1999.02 1237.58,2011.2 1243.3,2024.44 1249.02,2036.69 1254.74,2046.46 1260.46,2052.68 1266.18,2057.32 1271.9,2059.96 1277.62,2062.33 1283.34,2063.25 1289.06,2064.12 1294.78,2065.68 1300.5,2067.57 1306.22,2074.71 1311.94,2088.7 1317.66,2103.61 1323.38,2115.79 1329.1,2127.14 1334.82,2135.89 1340.54,2141.6 1346.26,2141.6 1351.98,2136.73 1357.7,2127.75 1363.42,2119.91 1369.14,2116.63 1374.86,2121.16 1380.58,2132.06 1386.3,2136.43 1392.02,2136.03 1397.74,2132.71 1403.46,2123.46 1409.18,2116.22 1414.9,2115.55 1420.62,2122.19 1426.34,2129.23 1432.06,2131.14 1437.78,2125.42 1443.5,2127.1 1449.22,2136.03 1454.94,2149.76 1460.66,2158.3 1466.38,2158.52 1472.1,2149.86 1477.82,2136.95 1483.54,2129.49 1489.26,2126.16 1494.98,2125.71 1500.7,2125.26 1506.42,2125.94 1512.14,2126.79 1517.86,2127.1 1523.58,2127.1 1529.3,2128.25 1535.02,2130.38 1540.74,2128.11 1546.46,2123.94 1552.18,2119.16 1557.9,2119.42 1563.62,2125.05 1569.34,2133.04 1575.06,2136.66 1580.78,2138.27 1586.5,2136.54 1592.22,2135.03 1597.94,2134.09 1603.66,2134.35 1609.38,2136.62 1615.1,2140.75 1620.82,2145.37 1626.54,2149.89 1632.26,2155.16 1637.98,2163.89 1643.7,2184.63 1649.42,2220.59 1655.14,2263.34 1660.86,2301.24 1666.58,2322.23 1672.3,2326.88 1678.02,2323.78 1683.74,2318.14 1689.46,2307.98 1695.18,2294.34 1700.9,2278.91 1706.62,2264.65 1712.34,2247.53 1718.06,2232.4 1723.78,2218.02 1729.5,2207.2 1735.22,2197.2 1740.94,2187.54 1746.66,2178.96 1752.38,2167.54 1758.1,2154.97 1763.82,2140.69 1769.54,2126.31 1775.26,2116.99 1780.98,2110.95 1786.7,2108.93" fill="none" stroke="#e6000c" stroke-width="2.4" stroke-linejoin="round" stroke-linecap="round"/>
<path d="M1009.3 2146.9a5.2 5.2 0 1 0 10.4 0a5.2 5.2 0 1 0 -10.4 0M1015.02 2158.02a5.2 5.2 0 1 0 10.4 0a5.2 5.2 0 1 0 -10.4 0M1020.74 2163.74a5.2 5.2 0 1 0 10.4 0a5.2 5.2 0 1 0 -10.4 0M1026.46 2165.78a5.2 5.2 0 1 0 10.4 0a5.2 5.2 0 1 0 -10.4 0M1032.18 2166.77a5.2 5.2 0 1 0 10.4 0a5.2 5.2 0 1 0 -10.4 0M1037.9 2164.79a5.2 5.2 0 1 0 10.4 0a5.2 5.2 0 1 0 -10.4 0M1043.62 2162.38a5.2 5.2 0 1 0 10.4 0a5.2 5.2 0 1 0 -10.4 0M1049.34 2156.3a5.2 5.2 0 1 0 10.4 0a5.2 5.2 0 1 0 -10.4 0M1055.06 2150a5.2 5.2 0 1 0 10.4 0a5.2 5.2 0 1 0 -10.4 0M1060.78 2142.01a5.2 5.2 0 1 0 10.4 0a5.2 5.2 0 1 0 -10.4 0M1066.5 2136.21a5.2 5.2 0 1 0 10.4 0a5.2 5.2 0 1 0 -10.4 0M1072.22 2132.86a5.2 5.2 0 1 0 10.4 0a5.2 5.2 0 1 0 -10.4 0M1077.94 2132.23a5.2 5.2 0 1 0 10.4 0a5.2 5.2 0 1 0 -10.4 0M1083.66 2133.69a5.2 5.2 0 1 0 10.4 0a5.2 5.2 0 1 0 -10.4 0M1089.38 2135.02a5.2 5.2 0 1 0 10.4 0a5.2 5.2 0 1 0 -10.4 0M1095.1 2132.61a5.2 5.2 0 1 0 10.4 0a5.2 5.2 0 1 0 -10.4 0M1100.82 2128.84a5.2 5.2 0 1 0 10.4 0a5.2 5.2 0 1 0 -10.4 0M1106.54 2113.22a5.2 5.2 0 1 0 10.4 0a5.2 5.2 0 1 0 -10.4 0M1112.26 2084.88a5.2 5.2 0 1 0 10.4 0a5.2 5.2 0 1 0 -10.4 0M1117.98 2054.39a5.2 5.2 0 1 0 10.4 0a5.2 5.2 0 1 0 -10.4 0M1123.7 2019.8a5.2 5.2 0 1 0 10.4 0a5.2 5.2 0 1 0 -10.4 0M1129.42 1985.35a5.2 5.2 0 1 0 10.4 0a5.2 5.2 0 1 0 -10.4 0M1135.14 1964.41a5.2 5.2 0 1 0 10.4 0a5.2 5.2 0 1 0 -10.4 0M1140.86 1956.2a5.2 5.2 0 1 0 10.4 0a5.2 5.2 0 1 0 -10.4 0M1146.58 1956.2a5.2 5.2 0 1 0 10.4 0a5.2 5.2 0 1 0 -10.4 0M1152.3 1954.9a5.2 5.2 0 1 0 10.4 0a5.2 5.2 0 1 0 -10.4 0M1158.02 1945.97a5.2 5.2 0 1 0 10.4 0a5.2 5.2 0 1 0 -10.4 0M1163.74 1929.46a5.2 5.2 0 1 0 10.4 0a5.2 5.2 0 1 0 -10.4 0M1169.46 1916.22a5.2 5.2 0 1 0 10.4 0a5.2 5.2 0 1 0 -10.4 0M1175.18 1905.59a5.2 5.2 0 1 0 10.4 0a5.2 5.2 0 1 0 -10.4 0M1180.9 1892.86a5.2 5.2 0 1 0 10.4 0a5.2 5.2 0 1 0 -10.4 0M1186.62 1883.52a5.2 5.2 0 1 0 10.4 0a5.2 5.2 0 1 0 -10.4 0M1192.34 1879.43a5.2 5.2 0 1 0 10.4 0a5.2 5.2 0 1 0 -10.4 0M1198.06 1887.05a5.2 5.2 0 1 0 10.4 0a5.2 5.2 0 1 0 -10.4 0M1203.78 1907.57a5.2 5.2 0 1 0 10.4 0a5.2 5.2 0 1 0 -10.4 0M1209.5 1936.98a5.2 5.2 0 1 0 10.4 0a5.2 5.2 0 1 0 -10.4 0M1215.22 1965.99a5.2 5.2 0 1 0 10.4 0a5.2 5.2 0 1 0 -10.4 0M1220.94 1986.38a5.2 5.2 0 1 0 10.4 0a5.2 5.2 0 1 0 -10.4 0M1226.66 1999.02a5.2 5.2 0 1 0 10.4 0a5.2 5.2 0 1 0 -10.4 0M1232.38 2011.2a5.2 5.2 0 1 0 10.4 0a5.2 5.2 0 1 0 -10.4 0M1238.1 2024.44a5.2 5.2 0 1 0 10.4 0a5.2 5.2 0 1 0 -10.4 0M1243.82 2036.69a5.2 5.2 0 1 0 10.4 0a5.2 5.2 0 1 0 -10.4 0M1249.54 2046.46a5.2 5.2 0 1 0 10.4 0a5.2 5.2 0 1 0 -10.4 0M1255.26 2052.68a5.2 5.2 0 1 0 10.4 0a5.2 5.2 0 1 0 -10.4 0M1260.98 2057.32a5.2 5.2 0 1 0 10.4 0a5.2 5.2 0 1 0 -10.4 0M1266.7 2059.96a5.2 5.2 0 1 0 10.4 0a5.2 5.2 0 1 0 -10.4 0M1272.42 2062.33a5.2 5.2 0 1 0 10.4 0a5.2 5.2 0 1 0 -10.4 0M1278.14 2063.25a5.2 5.2 0 1 0 10.4 0a5.2 5.2 0 1 0 -10.4 0M1283.86 2064.12a5.2 5.2 0 1 0 10.4 0a5.2 5.2 0 1 0 -10.4 0M1289.58 2065.68a5.2 5.2 0 1 0 10.4 0a5.2 5.2 0 1 0 -10.4 0M1295.3 2067.57a5.2 5.2 0 1 0 10.4 0a5.2 5.2 0 1 0 -10.4 0M1301.02 2074.71a5.2 5.2 0 1 0 10.4 0a5.2 5.2 0 1 0 -10.4 0M1306.74 2088.7a5.2 5.2 0 1 0 10.4 0a5.2 5.2 0 1 0 -10.4 0M1312.46 2103.61a5.2 5.2 0 1 0 10.4 0a5.2 5.2 0 1 0 -10.4 0M1318.18 2115.79a5.2 5.2 0 1 0 10.4 0a5.2 5.2 0 1 0 -10.4 0M1323.9 2127.14a5.2 5.2 0 1 0 10.4 0a5.2 5.2 0 1 0 -10.4 0M1329.62 2135.89a5.2 5.2 0 1 0 10.4 0a5.2 5.2 0 1 0 -10.4 0M1335.34 2141.6a5.2 5.2 0 1 0 10.4 0a5.2 5.2 0 1 0 -10.4 0M1341.06 2141.6a5.2 5.2 0 1 0 10.4 0a5.2 5.2 0 1 0 -10.4 0M1346.78 2136.73a5.2 5.2 0 1 0 10.4 0a5.2 5.2 0 1 0 -10.4 0M1352.5 2127.75a5.2 5.2 0 1 0 10.4 0a5.2 5.2 0 1 0 -10.4 0M1358.22 2119.91a5.2 5.2 0 1 0 10.4 0a5.2 5.2 0 1 0 -10.4 0M1363.94 2116.63a5.2 5.2 0 1 0 10.4 0a5.2 5.2 0 1 0 -10.4 0M1369.66 2121.16a5.2 5.2 0 1 0 10.4 0a5.2 5.2 0 1 0 -10.4 0M1375.38 2132.06a5.2 5.2 0 1 0 10.4 0a5.2 5.2 0 1 0 -10.4 0M1381.1 2136.43a5.2 5.2 0 1 0 10.4 0a5.2 5.2 0 1 0 -10.4 0M1386.82 2136.03a5.2 5.2 0 1 0 10.4 0a5.2 5.2 0 1 0 -10.4 0M1392.54 2132.71a5.2 5.2 0 1 0 10.4 0a5.2 5.2 0 1 0 -10.4 0M1398.26 2123.46a5.2 5.2 0 1 0 10.4 0a5.2 5.2 0 1 0 -10.4 0M1403.98 2116.22a5.2 5.2 0 1 0 10.4 0a5.2 5.2 0 1 0 -10.4 0M1409.7 2115.55a5.2 5.2 0 1 0 10.4 0a5.2 5.2 0 1 0 -10.4 0M1415.42 2122.19a5.2 5.2 0 1 0 10.4 0a5.2 5.2 0 1 0 -10.4 0M1421.14 2129.23a5.2 5.2 0 1 0 10.4 0a5.2 5.2 0 1 0 -10.4 0M1426.86 2131.14a5.2 5.2 0 1 0 10.4 0a5.2 5.2 0 1 0 -10.4 0M1432.58 2125.42a5.2 5.2 0 1 0 10.4 0a5.2 5.2 0 1 0 -10.4 0M1438.3 2127.1a5.2 5.2 0 1 0 10.4 0a5.2 5.2 0 1 0 -10.4 0M1444.02 2136.03a5.2 5.2 0 1 0 10.4 0a5.2 5.2 0 1 0 -10.4 0M1449.74 2149.76a5.2 5.2 0 1 0 10.4 0a5.2 5.2 0 1 0 -10.4 0M1455.46 2158.3a5.2 5.2 0 1 0 10.4 0a5.2 5.2 0 1 0 -10.4 0M1461.18 2158.52a5.2 5.2 0 1 0 10.4 0a5.2 5.2 0 1 0 -10.4 0M1466.9 2149.86a5.2 5.2 0 1 0 10.4 0a5.2 5.2 0 1 0 -10.4 0M1472.62 2136.95a5.2 5.2 0 1 0 10.4 0a5.2 5.2 0 1 0 -10.4 0M1478.34 2129.49a5.2 5.2 0 1 0 10.4 0a5.2 5.2 0 1 0 -10.4 0M1484.06 2126.16a5.2 5.2 0 1 0 10.4 0a5.2 5.2 0 1 0 -10.4 0M1489.78 2125.71a5.2 5.2 0 1 0 10.4 0a5.2 5.2 0 1 0 -10.4 0M1495.5 2125.26a5.2 5.2 0 1 0 10.4 0a5.2 5.2 0 1 0 -10.4 0M1501.22 2125.94a5.2 5.2 0 1 0 10.4 0a5.2 5.2 0 1 0 -10.4 0M1506.94 2126.79a5.2 5.2 0 1 0 10.4 0a5.2 5.2 0 1 0 -10.4 0M1512.66 2127.1a5.2 5.2 0 1 0 10.4 0a5.2 5.2 0 1 0 -10.4 0M1518.38 2127.1a5.2 5.2 0 1 0 10.4 0a5.2 5.2 0 1 0 -10.4 0M1524.1 2128.25a5.2 5.2 0 1 0 10.4 0a5.2 5.2 0 1 0 -10.4 0M1529.82 2130.38a5.2 5.2 0 1 0 10.4 0a5.2 5.2 0 1 0 -10.4 0M1535.54 2128.11a5.2 5.2 0 1 0 10.4 0a5.2 5.2 0 1 0 -10.4 0M1541.26 2123.94a5.2 5.2 0 1 0 10.4 0a5.2 5.2 0 1 0 -10.4 0M1546.98 2119.16a5.2 5.2 0 1 0 10.4 0a5.2 5.2 0 1 0 -10.4 0M1552.7 2119.42a5.2 5.2 0 1 0 10.4 0a5.2 5.2 0 1 0 -10.4 0M1558.42 2125.05a5.2 5.2 0 1 0 10.4 0a5.2 5.2 0 1 0 -10.4 0M1564.14 2133.04a5.2 5.2 0 1 0 10.4 0a5.2 5.2 0 1 0 -10.4 0M1569.86 2136.66a5.2 5.2 0 1 0 10.4 0a5.2 5.2 0 1 0 -10.4 0M1575.58 2138.27a5.2 5.2 0 1 0 10.4 0a5.2 5.2 0 1 0 -10.4 0M1581.3 2136.54a5.2 5.2 0 1 0 10.4 0a5.2 5.2 0 1 0 -10.4 0M1587.02 2135.03a5.2 5.2 0 1 0 10.4 0a5.2 5.2 0 1 0 -10.4 0M1592.74 2134.09a5.2 5.2 0 1 0 10.4 0a5.2 5.2 0 1 0 -10.4 0M1598.46 2134.35a5.2 5.2 0 1 0 10.4 0a5.2 5.2 0 1 0 -10.4 0M1604.18 2136.62a5.2 5.2 0 1 0 10.4 0a5.2 5.2 0 1 0 -10.4 0M1609.9 2140.75a5.2 5.2 0 1 0 10.4 0a5.2 5.2 0 1 0 -10.4 0M1615.62 2145.37a5.2 5.2 0 1 0 10.4 0a5.2 5.2 0 1 0 -10.4 0M1621.34 2149.89a5.2 5.2 0 1 0 10.4 0a5.2 5.2 0 1 0 -10.4 0M1627.06 2155.16a5.2 5.2 0 1 0 10.4 0a5.2 5.2 0 1 0 -10.4 0M1632.78 2163.89a5.2 5.2 0 1 0 10.4 0a5.2 5.2 0 1 0 -10.4 0M1638.5 2184.63a5.2 5.2 0 1 0 10.4 0a5.2 5.2 0 1 0 -10.4 0M1644.22 2220.59a5.2 5.2 0 1 0 10.4 0a5.2 5.2 0 1 0 -10.4 0M1649.94 2263.34a5.2 5.2 0 1 0 10.4 0a5.2 5.2 0 1 0 -10.4 0M1655.66 2301.24a5.2 5.2 0 1 0 10.4 0a5.2 5.2 0 1 0 -10.4 0M1661.38 2322.23a5.2 5.2 0 1 0 10.4 0a5.2 5.2 0 1 0 -10.4 0M1667.1 2326.88a5.2 5.2 0 1 0 10.4 0a5.2 5.2 0 1 0 -10.4 0M1672.82 2323.78a5.2 5.2 0 1 0 10.4 0a5.2 5.2 0 1 0 -10.4 0M1678.54 2318.14a5.2 5.2 0 1 0 10.4 0a5.2 5.2 0 1 0 -10.4 0M1684.26 2307.98a5.2 5.2 0 1 0 10.4 0a5.2 5.2 0 1 0 -10.4 0M1689.98 2294.34a5.2 5.2 0 1 0 10.4 0a5.2 5.2 0 1 0 -10.4 0M1695.7 2278.91a5.2 5.2 0 1 0 10.4 0a5.2 5.2 0 1 0 -10.4 0M1701.42 2264.65a5.2 5.2 0 1 0 10.4 0a5.2 5.2 0 1 0 -10.4 0M1707.14 2247.53a5.2 5.2 0 1 0 10.4 0a5.2 5.2 0 1 0 -10.4 0M1712.86 2232.4a5.2 5.2 0 1 0 10.4 0a5.2 5.2 0 1 0 -10.4 0M1718.58 2218.02a5.2 5.2 0 1 0 10.4 0a5.2 5.2 0 1 0 -10.4 0M1724.3 2207.2a5.2 5.2 0 1 0 10.4 0a5.2 5.2 0 1 0 -10.4 0M1730.02 2197.2a5.2 5.2 0 1 0 10.4 0a5.2 5.2 0 1 0 -10.4 0M1735.74 2187.54a5.2 5.2 0 1 0 10.4 0a5.2 5.2 0 1 0 -10.4 0M1741.46 2178.96a5.2 5.2 0 1 0 10.4 0a5.2 5.2 0 1 0 -10.4 0M1747.18 2167.54a5.2 5.2 0 1 0 10.4 0a5.2 5.2 0 1 0 -10.4 0M1752.9 2154.97a5.2 5.2 0 1 0 10.4 0a5.2 5.2 0 1 0 -10.4 0M1758.62 2140.69a5.2 5.2 0 1 0 10.4 0a5.2 5.2 0 1 0 -10.4 0M1764.34 2126.31a5.2 5.2 0 1 0 10.4 0a5.2 5.2 0 1 0 -10.4 0M1770.06 2116.99a5.2 5.2 0 1 0 10.4 0a5.2 5.2 0 1 0 -10.4 0M1775.78 2110.95a5.2 5.2 0 1 0 10.4 0a5.2 5.2 0 1 0 -10.4 0M1781.5 2108.93a5.2 5.2 0 1 0 10.4 0a5.2 5.2 0 1 0 -10.4 0" fill="none" stroke="#e6000c" stroke-width="1.2"/>
<path d="M1014.5 2136.2V2150.2M1009.1 2136.2h10.8M1009.1 2150.2h10.8M1020.22 2133.77V2147.77M1014.82 2133.77h10.8M1014.82 2147.77h10.8M1025.94 2131.34V2145.34M1020.54 2131.34h10.8M1020.54 2145.34h10.8M1031.66 2128.59V2142.59M1026.26 2128.59h10.8M1026.26 2142.59h10.8M1037.38 2125.76V2139.76M1031.98 2125.76h10.8M1031.98 2139.76h10.8M1043.1 2119.41V2133.41M1037.7 2119.41h10.8M1037.7 2133.41h10.8M1048.82 2113.56V2127.56M1043.42 2113.56h10.8M1043.42 2127.56h10.8M1054.54 2111.35V2125.35M1049.14 2111.35h10.8M1049.14 2125.35h10.8M1060.26 2114.94V2128.94M1054.86 2114.94h10.8M1054.86 2128.94h10.8M1065.98 2122V2136M1060.58 2122h10.8M1060.58 2136h10.8M1071.7 2124.49V2138.49M1066.3 2124.49h10.8M1066.3 2138.49h10.8M1077.42 2125.75V2139.75M1072.02 2125.75h10.8M1072.02 2139.75h10.8M1083.14 2127.71V2141.71M1077.74 2127.71h10.8M1077.74 2141.71h10.8M1088.86 2130.19V2144.19M1083.46 2130.19h10.8M1083.46 2144.19h10.8M1094.58 2132.57V2146.57M1089.18 2132.57h10.8M1089.18 2146.57h10.8M1100.3 2131.63V2145.63M1094.9 2131.63h10.8M1094.9 2145.63h10.8M1106.02 2127.82V2146.82M1100.62 2127.82h10.8M1100.62 2146.82h10.8M1111.74 2123.99V2142.99M1106.34 2123.99h10.8M1106.34 2142.99h10.8M1117.46 2117.44V2136.44M1112.06 2117.44h10.8M1112.06 2136.44h10.8M1123.18 2100.56V2119.56M1117.78 2100.56h10.8M1117.78 2119.56h10.8M1128.9 2077.5V2096.5M1123.5 2077.5h10.8M1123.5 2096.5h10.8M1134.62 2051.34V2070.34M1129.22 2051.34h10.8M1129.22 2070.34h10.8M1140.34 2035.07V2054.07M1134.94 2035.07h10.8M1134.94 2054.07h10.8M1146.06 2028.77V2047.77M1140.66 2028.77h10.8M1140.66 2047.77h10.8M1151.78 2024.81V2043.81M1146.38 2024.81h10.8M1146.38 2043.81h10.8M1157.5 2018.31V2037.31M1152.1 2018.31h10.8M1152.1 2037.31h10.8M1163.22 2007.83V2026.83M1157.82 2007.83h10.8M1157.82 2026.83h10.8M1168.94 1994.5V2013.5M1163.54 1994.5h10.8M1163.54 2013.5h10.8M1174.66 1987.29V2006.29M1169.26 1987.29h10.8M1169.26 2006.29h10.8M1180.38 1984.03V2003.03M1174.98 1984.03h10.8M1174.98 2003.03h10.8M1186.1 1980.76V1999.76M1180.7 1980.76h10.8M1180.7 1999.76h10.8M1191.82 1978.98V1997.98M1186.42 1978.98h10.8M1186.42 1997.98h10.8M1197.54 1981.97V2000.97M1192.14 1981.97h10.8M1192.14 2000.97h10.8M1203.26 1990.1V2009.1M1197.86 1990.1h10.8M1197.86 2009.1h10.8M1208.98 2007.14V2026.14M1203.58 2007.14h10.8M1203.58 2026.14h10.8M1214.7 2023.69V2042.69M1209.3 2023.69h10.8M1209.3 2042.69h10.8M1220.42 2033.59V2052.59M1215.02 2033.59h10.8M1215.02 2052.59h10.8M1226.14 2041.78V2060.78M1220.74 2041.78h10.8M1220.74 2060.78h10.8M1231.86 2050.36V2069.36M1226.46 2050.36h10.8M1226.46 2069.36h10.8M1237.58 2058.9V2077.9M1232.18 2058.9h10.8M1232.18 2077.9h10.8M1243.3 2066.28V2085.28M1237.9 2066.28h10.8M1237.9 2085.28h10.8M1249.02 2071.12V2090.12M1243.62 2071.12h10.8M1243.62 2090.12h10.8M1254.74 2071.69V2090.69M1249.34 2071.69h10.8M1249.34 2090.69h10.8M1260.46 2072.26V2091.26M1255.06 2072.26h10.8M1255.06 2091.26h10.8M1266.18 2072.83V2091.83M1260.78 2072.83h10.8M1260.78 2091.83h10.8M1271.9 2074.38V2093.38M1266.5 2074.38h10.8M1266.5 2093.38h10.8M1277.62 2074.87V2093.87M1272.22 2074.87h10.8M1272.22 2093.87h10.8M1283.34 2072.29V2091.29M1277.94 2072.29h10.8M1277.94 2091.29h10.8M1289.06 2070.68V2089.68M1283.66 2070.68h10.8M1283.66 2089.68h10.8M1294.78 2072.65V2091.65M1289.38 2072.65h10.8M1289.38 2091.65h10.8M1300.5 2079.43V2092.43M1295.1 2079.43h10.8M1295.1 2092.43h10.8M1306.22 2086.66V2099.66M1300.82 2086.66h10.8M1300.82 2099.66h10.8M1311.94 2096.15V2109.15M1306.54 2096.15h10.8M1306.54 2109.15h10.8M1317.66 2106.1V2119.1M1312.26 2106.1h10.8M1312.26 2119.1h10.8M1323.38 2116.09V2129.09M1317.98 2116.09h10.8M1317.98 2129.09h10.8M1329.1 2126.1V2139.1M1323.7 2126.1h10.8M1323.7 2139.1h10.8M1334.82 2131.47V2144.47M1329.42 2131.47h10.8M1329.42 2144.47h10.8M1340.54 2134.02V2141.02M1335.14 2134.02h10.8M1335.14 2141.02h10.8M1346.26 2133.57V2140.57M1340.86 2133.57h10.8M1340.86 2140.57h10.8M1351.98 2133.5V2140.5M1346.58 2133.5h10.8M1346.58 2140.5h10.8M1357.7 2133.5V2140.5M1352.3 2133.5h10.8M1352.3 2140.5h10.8M1363.42 2133.83V2140.83M1358.02 2133.83h10.8M1358.02 2140.83h10.8M1369.14 2134.94V2141.94M1363.74 2134.94h10.8M1363.74 2141.94h10.8M1374.86 2136.04V2143.04M1369.46 2136.04h10.8M1369.46 2143.04h10.8M1380.58 2137.53V2144.53M1375.18 2137.53h10.8M1375.18 2144.53h10.8M1386.3 2139.14V2146.14M1380.9 2139.14h10.8M1380.9 2146.14h10.8M1392.02 2138.69V2145.69M1386.62 2138.69h10.8M1386.62 2145.69h10.8M1397.74 2129.4V2150.4M1392.34 2129.4h10.8M1392.34 2150.4h10.8M1403.46 2124.92V2145.92M1398.06 2124.92h10.8M1398.06 2145.92h10.8M1409.18 2122V2143M1403.78 2122h10.8M1403.78 2143h10.8M1414.9 2122.63V2143.63M1409.5 2122.63h10.8M1409.5 2143.63h10.8M1420.62 2129.86V2150.86M1415.22 2129.86h10.8M1415.22 2150.86h10.8M1426.34 2132.27V2153.27M1420.94 2132.27h10.8M1420.94 2153.27h10.8M1432.06 2129.74V2150.74M1426.66 2129.74h10.8M1426.66 2150.74h10.8M1437.78 2124.02V2145.02M1432.38 2124.02h10.8M1432.38 2145.02h10.8M1443.5 2130.75V2151.75M1438.1 2130.75h10.8M1438.1 2151.75h10.8M1449.22 2140.88V2161.88M1443.82 2140.88h10.8M1443.82 2161.88h10.8M1454.94 2150.44V2171.44M1449.54 2150.44h10.8M1449.54 2171.44h10.8M1460.66 2157.04V2178.04M1455.26 2157.04h10.8M1455.26 2178.04h10.8M1466.38 2160.61V2181.61M1460.98 2160.61h10.8M1460.98 2181.61h10.8M1472.1 2157.86V2178.86M1466.7 2157.86h10.8M1466.7 2178.86h10.8M1477.82 2152.11V2173.11M1472.42 2152.11h10.8M1472.42 2173.11h10.8M1483.54 2145.95V2166.95M1478.14 2145.95h10.8M1478.14 2166.95h10.8M1489.26 2142.09V2163.09M1483.86 2142.09h10.8M1483.86 2163.09h10.8M1494.98 2143.22V2164.22M1489.58 2143.22h10.8M1489.58 2164.22h10.8M1500.7 2145.46V2166.46M1495.3 2145.46h10.8M1495.3 2166.46h10.8M1506.42 2148.86V2169.86M1501.02 2148.86h10.8M1501.02 2169.86h10.8M1512.14 2150.27V2171.27M1506.74 2150.27h10.8M1506.74 2171.27h10.8M1517.86 2149.76V2170.76M1512.46 2149.76h10.8M1512.46 2170.76h10.8M1523.58 2145.18V2166.18M1518.18 2145.18h10.8M1518.18 2166.18h10.8M1529.3 2136.64V2157.64M1523.9 2136.64h10.8M1523.9 2157.64h10.8M1535.02 2129.19V2150.19M1529.62 2129.19h10.8M1529.62 2150.19h10.8M1540.74 2127.9V2140.9M1535.34 2127.9h10.8M1535.34 2140.9h10.8M1546.46 2124.46V2137.46M1541.06 2124.46h10.8M1541.06 2137.46h10.8M1552.18 2123.27V2136.27M1546.78 2123.27h10.8M1546.78 2136.27h10.8M1557.9 2123.3V2136.3M1552.5 2123.3h10.8M1552.5 2136.3h10.8M1563.62 2125.31V2138.31M1558.22 2125.31h10.8M1558.22 2138.31h10.8M1569.34 2129.64V2142.64M1563.94 2129.64h10.8M1563.94 2142.64h10.8M1575.06 2131.23V2144.23M1569.66 2131.23h10.8M1569.66 2144.23h10.8M1580.78 2132.04V2145.04M1575.38 2132.04h10.8M1575.38 2145.04h10.8M1586.5 2132.4V2145.4M1581.1 2132.4h10.8M1581.1 2145.4h10.8M1592.22 2132.4V2145.4M1586.82 2132.4h10.8M1586.82 2145.4h10.8M1597.94 2132.35V2145.35M1592.54 2132.35h10.8M1592.54 2145.35h10.8M1603.66 2130.23V2143.23M1598.26 2130.23h10.8M1598.26 2143.23h10.8M1609.38 2128.12V2141.12M1603.98 2128.12h10.8M1603.98 2141.12h10.8M1615.1 2129.03V2142.03M1609.7 2129.03h10.8M1609.7 2142.03h10.8M1620.82 2134.22V2147.22M1615.42 2134.22h10.8M1615.42 2147.22h10.8M1626.54 2142.76V2155.76M1621.14 2142.76h10.8M1621.14 2155.76h10.8M1632.26 2149.98V2162.98M1626.86 2149.98h10.8M1626.86 2162.98h10.8M1637.98 2161.1V2174.1M1632.58 2161.1h10.8M1632.58 2174.1h10.8M1643.7 2179.45V2196.45M1638.3 2179.45h10.8M1638.3 2196.45h10.8M1649.42 2212.62V2229.62M1644.02 2212.62h10.8M1644.02 2229.62h10.8M1655.14 2247.95V2264.95M1649.74 2247.95h10.8M1649.74 2264.95h10.8M1660.86 2263.44V2280.44M1655.46 2263.44h10.8M1655.46 2280.44h10.8M1666.58 2266.21V2283.21M1661.18 2266.21h10.8M1661.18 2283.21h10.8M1672.3 2264.8V2281.8M1666.9 2264.8h10.8M1666.9 2281.8h10.8M1678.02 2257.67V2274.67M1672.62 2257.67h10.8M1672.62 2274.67h10.8M1683.74 2250.47V2267.47M1678.34 2250.47h10.8M1678.34 2267.47h10.8M1689.46 2241.33V2258.33M1684.06 2241.33h10.8M1684.06 2258.33h10.8M1695.18 2228.93V2245.93M1689.78 2228.93h10.8M1689.78 2245.93h10.8M1700.9 2214.56V2231.56M1695.5 2214.56h10.8M1695.5 2231.56h10.8M1706.62 2205.02V2222.02M1701.22 2205.02h10.8M1701.22 2222.02h10.8M1712.34 2202.54V2219.54M1706.94 2202.54h10.8M1706.94 2219.54h10.8M1718.06 2201.02V2218.02M1712.66 2201.02h10.8M1712.66 2218.02h10.8M1723.78 2196.11V2213.11M1718.38 2196.11h10.8M1718.38 2213.11h10.8M1729.5 2187.34V2204.34M1724.1 2187.34h10.8M1724.1 2204.34h10.8M1735.22 2177.28V2194.28M1729.82 2177.28h10.8M1729.82 2194.28h10.8M1740.94 2167.33V2184.33M1735.54 2167.33h10.8M1735.54 2184.33h10.8M1746.66 2156.05V2173.05M1741.26 2156.05h10.8M1741.26 2173.05h10.8M1752.38 2144.59V2161.59M1746.98 2144.59h10.8M1746.98 2161.59h10.8M1758.1 2134.83V2151.83M1752.7 2134.83h10.8M1752.7 2151.83h10.8M1763.82 2128.42V2145.42M1758.42 2128.42h10.8M1758.42 2145.42h10.8M1769.54 2126.99V2143.99M1764.14 2126.99h10.8M1764.14 2143.99h10.8M1775.26 2128.76V2145.76M1769.86 2128.76h10.8M1769.86 2145.76h10.8M1780.98 2131.18V2148.18M1775.58 2131.18h10.8M1775.58 2148.18h10.8M1786.7 2134V2151M1781.3 2134h10.8M1781.3 2151h10.8" fill="none" stroke="#1c0fd2" stroke-width="1.8"/>
<polyline points="1014.5,2143.2 1020.22,2140.77 1025.94,2138.34 1031.66,2135.59 1037.38,2132.76 1043.1,2126.41 1048.82,2120.56 1054.54,2118.35 1060.26,2121.94 1065.98,2129 1071.7,2131.49 1077.42,2132.75 1083.14,2134.71 1088.86,2137.19 1094.58,2139.57 1100.3,2138.63 1106.02,2137.32 1111.74,2133.49 1117.46,2126.94 1123.18,2110.06 1128.9,2087 1134.62,2060.84 1140.34,2044.57 1146.06,2038.27 1151.78,2034.31 1157.5,2027.81 1163.22,2017.33 1168.94,2004 1174.66,1996.79 1180.38,1993.53 1186.1,1990.26 1191.82,1988.48 1197.54,1991.47 1203.26,1999.6 1208.98,2016.64 1214.7,2033.19 1220.42,2043.09 1226.14,2051.28 1231.86,2059.86 1237.58,2068.4 1243.3,2075.78 1249.02,2080.62 1254.74,2081.19 1260.46,2081.76 1266.18,2082.33 1271.9,2083.88 1277.62,2084.37 1283.34,2081.79 1289.06,2080.18 1294.78,2082.15 1300.5,2085.93 1306.22,2093.16 1311.94,2102.65 1317.66,2112.6 1323.38,2122.59 1329.1,2132.6 1334.82,2137.97 1340.54,2137.52 1346.26,2137.07 1351.98,2137 1357.7,2137 1363.42,2137.33 1369.14,2138.44 1374.86,2139.54 1380.58,2141.03 1386.3,2142.64 1392.02,2142.19 1397.74,2139.9 1403.46,2135.42 1409.18,2132.5 1414.9,2133.13 1420.62,2140.36 1426.34,2142.77 1432.06,2140.24 1437.78,2134.52 1443.5,2141.25 1449.22,2151.38 1454.94,2160.94 1460.66,2167.54 1466.38,2171.11 1472.1,2168.36 1477.82,2162.61 1483.54,2156.45 1489.26,2152.59 1494.98,2153.72 1500.7,2155.96 1506.42,2159.36 1512.14,2160.77 1517.86,2160.26 1523.58,2155.68 1529.3,2147.14 1535.02,2139.69 1540.74,2134.4 1546.46,2130.96 1552.18,2129.77 1557.9,2129.8 1563.62,2131.81 1569.34,2136.14 1575.06,2137.73 1580.78,2138.54 1586.5,2138.9 1592.22,2138.9 1597.94,2138.85 1603.66,2136.73 1609.38,2134.62 1615.1,2135.53 1620.82,2140.72 1626.54,2149.26 1632.26,2156.48 1637.98,2167.6 1643.7,2187.95 1649.42,2221.12 1655.14,2256.45 1660.86,2271.94 1666.58,2274.71 1672.3,2273.3 1678.02,2266.17 1683.74,2258.97 1689.46,2249.83 1695.18,2237.43 1700.9,2223.06 1706.62,2213.52 1712.34,2211.04 1718.06,2209.52 1723.78,2204.61 1729.5,2195.84 1735.22,2185.78 1740.94,2175.83 1746.66,2164.55 1752.38,2153.09 1758.1,2143.33 1763.82,2136.92 1769.54,2135.49 1775.26,2137.26 1780.98,2139.68 1786.7,2142.5" fill="none" stroke="#1c0fd2" stroke-width="2.4" stroke-linejoin="round" stroke-linecap="round"/>
<path d="M1014.5 2137L1020.5 2147.6H1008.5ZM1020.22 2134.57L1026.22 2145.17H1014.22ZM1025.94 2132.14L1031.94 2142.74H1019.94ZM1031.66 2129.39L1037.66 2139.99H1025.66ZM1037.38 2126.56L1043.38 2137.16H1031.38ZM1043.1 2120.21L1049.1 2130.81H1037.1ZM1048.82 2114.36L1054.82 2124.96H1042.82ZM1054.54 2112.15L1060.54 2122.75H1048.54ZM1060.26 2115.74L1066.26 2126.34H1054.26ZM1065.98 2122.8L1071.98 2133.4H1059.98ZM1071.7 2125.29L1077.7 2135.89H1065.7ZM1077.42 2126.55L1083.42 2137.15H1071.42ZM1083.14 2128.51L1089.14 2139.11H1077.14ZM1088.86 2130.99L1094.86 2141.59H1082.86ZM1094.58 2133.37L1100.58 2143.97H1088.58ZM1100.3 2132.43L1106.3 2143.03H1094.3ZM1106.02 2131.12L1112.02 2141.72H1100.02ZM1111.74 2127.29L1117.74 2137.89H1105.74ZM1117.46 2120.74L1123.46 2131.34H1111.46ZM1123.18 2103.86L1129.18 2114.46H1117.18ZM1128.9 2080.8L1134.9 2091.4H1122.9ZM1134.62 2054.64L1140.62 2065.24H1128.62ZM1140.34 2038.37L1146.34 2048.97H1134.34ZM1146.06 2032.07L1152.06 2042.67H1140.06ZM1151.78 2028.11L1157.78 2038.71H1145.78ZM1157.5 2021.61L1163.5 2032.21H1151.5ZM1163.22 2011.13L1169.22 2021.73H1157.22ZM1168.94 1997.8L1174.94 2008.4H1162.94ZM1174.66 1990.59L1180.66 2001.19H1168.66ZM1180.38 1987.33L1186.38 1997.93H1174.38ZM1186.1 1984.06L1192.1 1994.66H1180.1ZM1191.82 1982.28L1197.82 1992.88H1185.82ZM1197.54 1985.27L1203.54 1995.87H1191.54ZM1203.26 1993.4L1209.26 2004H1197.26ZM1208.98 2010.44L1214.98 2021.04H1202.98ZM1214.7 2026.99L1220.7 2037.59H1208.7ZM1220.42 2036.89L1226.42 2047.49H1214.42ZM1226.14 2045.08L1232.14 2055.68H1220.14ZM1231.86 2053.66L1237.86 2064.26H1225.86ZM1237.58 2062.2L1243.58 2072.8H1231.58ZM1243.3 2069.58L1249.3 2080.18H1237.3ZM1249.02 2074.42L1255.02 2085.02H1243.02ZM1254.74 2074.99L1260.74 2085.59H1248.74ZM1260.46 2075.56L1266.46 2086.16H1254.46ZM1266.18 2076.13L1272.18 2086.73H1260.18ZM1271.9 2077.68L1277.9 2088.28H1265.9ZM1277.62 2078.17L1283.62 2088.77H1271.62ZM1283.34 2075.59L1289.34 2086.19H1277.34ZM1289.06 2073.98L1295.06 2084.58H1283.06ZM1294.78 2075.95L1300.78 2086.55H1288.78ZM1300.5 2079.73L1306.5 2090.33H1294.5ZM1306.22 2086.96L1312.22 2097.56H1300.22ZM1311.94 2096.45L1317.94 2107.05H1305.94ZM1317.66 2106.4L1323.66 2117H1311.66ZM1323.38 2116.39L1329.38 2126.99H1317.38ZM1329.1 2126.4L1335.1 2137H1323.1ZM1334.82 2131.77L1340.82 2142.37H1328.82ZM1340.54 2131.32L1346.54 2141.92H1334.54ZM1346.26 2130.87L1352.26 2141.47H1340.26ZM1351.98 2130.8L1357.98 2141.4H1345.98ZM1357.7 2130.8L1363.7 2141.4H1351.7ZM1363.42 2131.13L1369.42 2141.73H1357.42ZM1369.14 2132.24L1375.14 2142.84H1363.14ZM1374.86 2133.34L1380.86 2143.94H1368.86ZM1380.58 2134.83L1386.58 2145.43H1374.58ZM1386.3 2136.44L1392.3 2147.04H1380.3ZM1392.02 2135.99L1398.02 2146.59H1386.02ZM1397.74 2133.7L1403.74 2144.3H1391.74ZM1403.46 2129.22L1409.46 2139.82H1397.46ZM1409.18 2126.3L1415.18 2136.9H1403.18ZM1414.9 2126.93L1420.9 2137.53H1408.9ZM1420.62 2134.16L1426.62 2144.76H1414.62ZM1426.34 2136.57L1432.34 2147.17H1420.34ZM1432.06 2134.04L1438.06 2144.64H1426.06ZM1437.78 2128.32L1443.78 2138.92H1431.78ZM1443.5 2135.05L1449.5 2145.65H1437.5ZM1449.22 2145.18L1455.22 2155.78H1443.22ZM1454.94 2154.74L1460.94 2165.34H1448.94ZM1460.66 2161.34L1466.66 2171.94H1454.66ZM1466.38 2164.91L1472.38 2175.51H1460.38ZM1472.1 2162.16L1478.1 2172.76H1466.1ZM1477.82 2156.41L1483.82 2167.01H1471.82ZM1483.54 2150.25L1489.54 2160.85H1477.54ZM1489.26 2146.39L1495.26 2156.99H1483.26ZM1494.98 2147.52L1500.98 2158.12H1488.98ZM1500.7 2149.76L1506.7 2160.36H1494.7ZM1506.42 2153.16L1512.42 2163.76H1500.42ZM1512.14 2154.57L1518.14 2165.17H1506.14ZM1517.86 2154.06L1523.86 2164.66H1511.86ZM1523.58 2149.48L1529.58 2160.08H1517.58ZM1529.3 2140.94L1535.3 2151.54H1523.3ZM1535.02 2133.49L1541.02 2144.09H1529.02ZM1540.74 2128.2L1546.74 2138.8H1534.74ZM1546.46 2124.76L1552.46 2135.36H1540.46ZM1552.18 2123.57L1558.18 2134.17H1546.18ZM1557.9 2123.6L1563.9 2134.2H1551.9ZM1563.62 2125.61L1569.62 2136.21H1557.62ZM1569.34 2129.94L1575.34 2140.54H1563.34ZM1575.06 2131.53L1581.06 2142.13H1569.06ZM1580.78 2132.34L1586.78 2142.94H1574.78ZM1586.5 2132.7L1592.5 2143.3H1580.5ZM1592.22 2132.7L1598.22 2143.3H1586.22ZM1597.94 2132.65L1603.94 2143.25H1591.94ZM1603.66 2130.53L1609.66 2141.13H1597.66ZM1609.38 2128.42L1615.38 2139.02H1603.38ZM1615.1 2129.33L1621.1 2139.93H1609.1ZM1620.82 2134.52L1626.82 2145.12H1614.82ZM1626.54 2143.06L1632.54 2153.66H1620.54ZM1632.26 2150.28L1638.26 2160.88H1626.26ZM1637.98 2161.4L1643.98 2172H1631.98ZM1643.7 2181.75L1649.7 2192.35H1637.7ZM1649.42 2214.92L1655.42 2225.52H1643.42ZM1655.14 2250.25L1661.14 2260.85H1649.14ZM1660.86 2265.74L1666.86 2276.34H1654.86ZM1666.58 2268.51L1672.58 2279.11H1660.58ZM1672.3 2267.1L1678.3 2277.7H1666.3ZM1678.02 2259.97L1684.02 2270.57H1672.02ZM1683.74 2252.77L1689.74 2263.37H1677.74ZM1689.46 2243.63L1695.46 2254.23H1683.46ZM1695.18 2231.23L1701.18 2241.83H1689.18ZM1700.9 2216.86L1706.9 2227.46H1694.9ZM1706.62 2207.32L1712.62 2217.92H1700.62ZM1712.34 2204.84L1718.34 2215.44H1706.34ZM1718.06 2203.32L1724.06 2213.92H1712.06ZM1723.78 2198.41L1729.78 2209.01H1717.78ZM1729.5 2189.64L1735.5 2200.24H1723.5ZM1735.22 2179.58L1741.22 2190.18H1729.22ZM1740.94 2169.63L1746.94 2180.23H1734.94ZM1746.66 2158.35L1752.66 2168.95H1740.66ZM1752.38 2146.89L1758.38 2157.49H1746.38ZM1758.1 2137.13L1764.1 2147.73H1752.1ZM1763.82 2130.72L1769.82 2141.32H1757.82ZM1769.54 2129.29L1775.54 2139.89H1763.54ZM1775.26 2131.06L1781.26 2141.66H1769.26ZM1780.98 2133.48L1786.98 2144.08H1774.98ZM1786.7 2136.3L1792.7 2146.9H1780.7Z" fill="none" stroke="#1c0fd2" stroke-width="1.2"/>
<line x1="1012" y1="1853.5" x2="1012" y2="2377.5" stroke="#000" stroke-width="4" stroke-linecap="round"/>
<line x1="1010" y1="2375.3" x2="1791" y2="2375.3" stroke="#000" stroke-width="4.4" stroke-linecap="round"/>
<line x1="997" y1="1911.1" x2="1012" y2="1911.1" stroke="#000" stroke-width="3.6"/>
<line x1="997" y1="2141.5" x2="1012" y2="2141.5" stroke="#000" stroke-width="3.6"/>
<line x1="997" y1="2371.6" x2="1012" y2="2371.6" stroke="#000" stroke-width="3.6"/>
<line x1="1232.4" y1="2375" x2="1232.4" y2="2391" stroke="#000" stroke-width="4"/>
<line x1="1460.9" y1="2375" x2="1460.9" y2="2391" stroke="#000" stroke-width="4"/>
<line x1="1689.1" y1="2375" x2="1689.1" y2="2391" stroke="#000" stroke-width="4"/>
<text transform="translate(944.44 1919.9) scale(1.0000 1)" font-size="25.29" stroke="#000" stroke-width="0.51" stroke-linejoin="round">1.05</text>
<text transform="translate(944.36 2150.3) scale(1.0000 1)" font-size="25.29" stroke="#000" stroke-width="0.51" stroke-linejoin="round">1.00</text>
<text transform="translate(944.44 2380.4) scale(1.0000 1)" font-size="25.29" stroke="#000" stroke-width="0.51" stroke-linejoin="round">0.95</text>
<text transform="translate(1218.08 2413.6) scale(1.0000 1)" font-size="25" stroke="#000" stroke-width="0.5" stroke-linejoin="round">50</text>
<text transform="translate(1439.18 2413.6) scale(1.0000 1)" font-size="25" stroke="#000" stroke-width="0.5" stroke-linejoin="round">100</text>
<text transform="translate(1667.38 2413.6) scale(1.0000 1)" font-size="25" stroke="#000" stroke-width="0.5" stroke-linejoin="round">150</text>
<text transform="translate(1338.76 2442.4) scale(1.0008 1)" font-size="28.49" stroke="#000" stroke-width="0.57" stroke-linejoin="round">Time (minutes)</text>
<text transform="translate(935.2 2217.57) rotate(-90) scale(1.0033 1)" font-size="27.91" font-weight="bold" stroke="#000" stroke-width="0.84" stroke-linejoin="round">[ATP/ADP], F/F<tspan font-size="17" dy="5">0</tspan></text>
<text transform="translate(1096.57 1828) scale(1.0074 1)" font-size="20.93" font-weight="bold" stroke="#000" stroke-width="0.63" stroke-linejoin="round">20 mM Gluc</text>
<text transform="translate(1012.49 1871.6) scale(0.9951 1)" font-size="20.93" font-weight="bold" stroke="#000" stroke-width="0.63" stroke-linejoin="round">1 mM Gluc</text>
<text transform="translate(1236.46 1876.3) scale(1.0173 1)" font-size="20.93" font-weight="bold" stroke="#000" stroke-width="0.63" stroke-linejoin="round">1 mM Gluc</text>
<text transform="translate(1369.16 1822.9) scale(1.0195 1)" font-size="20.93" font-weight="bold" stroke="#000" stroke-width="0.63" stroke-linejoin="round">20 mM Gluc</text>
<text transform="translate(1344.34 1841.8) scale(1.0078 1)" font-size="21.22" stroke="#000" stroke-width="0.42" stroke-linejoin="round">5 μM oligomycin</text>
<text transform="translate(1489.77 1878.8) scale(1.0076 1)" font-size="20.93" font-weight="bold" stroke="#000" stroke-width="0.63" stroke-linejoin="round">1 mM Gluc</text>
<text transform="translate(1603.98 1834.9) scale(1.0041 1)" font-size="20.93" font-weight="bold" stroke="#000" stroke-width="0.63" stroke-linejoin="round">4 μM FCCP</text>
<text transform="translate(1711.76 1880.2) scale(1.0182 1)" font-size="20.93" font-weight="bold" stroke="#000" stroke-width="0.63" stroke-linejoin="round">1 mM Gluc</text>
<line x1="1216" y1="2228" x2="1257.9" y2="2228" stroke="#e6000c" stroke-width="2.4"/>
<circle cx="1237.3" cy="2228" r="7" fill="none" stroke="#e6000c" stroke-width="1.3"/>
<line x1="1216" y1="2252.9" x2="1257.9" y2="2252.9" stroke="#1c0fd2" stroke-width="2.4"/>
<path d="M1237.3 2244.2L1245.8 2258.4H1228.8Z" fill="none" stroke="#1c0fd2" stroke-width="1.3"/>
<text transform="translate(1266.49 2233.6) scale(0.9885 1)" font-size="25" stroke="#000" stroke-width="0.5" stroke-linejoin="round">U87 shC</text>
<text transform="translate(1266.5 2260.3) scale(0.9877 1)" font-size="25" stroke="#000" stroke-width="0.5" stroke-linejoin="round">U87 shP</text>
</g>
</svg>
</body>
</html>
